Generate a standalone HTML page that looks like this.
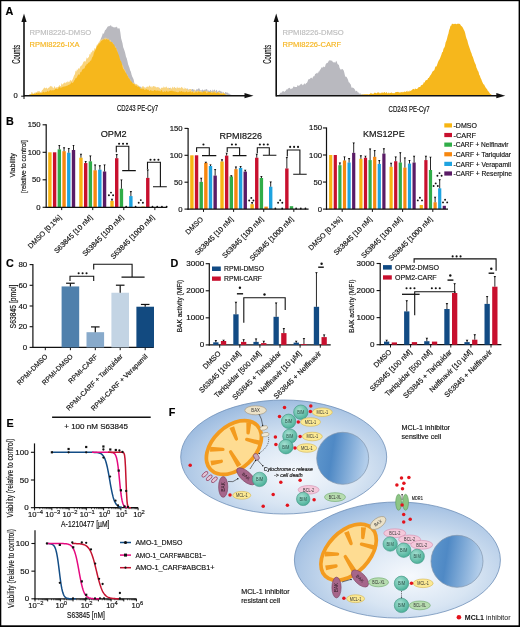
<!DOCTYPE html>
<html><head><meta charset="utf-8"><style>
html,body{margin:0;padding:0;background:#fff;}
body{width:520px;height:627px;overflow:hidden;font-family:"Liberation Sans",sans-serif;}
svg{display:block;will-change:transform;}
</style></head><body>
<svg width="520" height="627" viewBox="0 0 520 627" font-family="Liberation Sans, sans-serif"><defs>
<radialGradient id="cellg" cx="0.58" cy="0.62" r="0.66" fx="0.56" fy="0.64">
<stop offset="0" stop-color="#f6f9fd"/><stop offset="0.45" stop-color="#d8e5f3"/><stop offset="0.82" stop-color="#b0c9e6"/><stop offset="1" stop-color="#98b8de"/></radialGradient>
<linearGradient id="nucg" x1="0" y1="0" x2="1" y2="0.15">
<stop offset="0" stop-color="#5f97cd"/><stop offset="0.35" stop-color="#4f89c5"/><stop offset="1" stop-color="#b2cdea"/></linearGradient>
<radialGradient id="bimg" cx="0.4" cy="0.35" r="0.7"><stop offset="0" stop-color="#a6e0d2"/><stop offset="1" stop-color="#45ad95"/></radialGradient>
</defs><path d="M28,95.6 L28,95.6 L28.7,95.22 L29.4,94.83 L30.1,94.48 L30.8,94.37 L31.5,94.25 L32.2,94.13 L32.9,93.14 L33.6,94.73 L34.3,94.42 L35,93.08 L35.7,93.54 L36.4,93.31 L37.1,93.68 L37.8,93.89 L38.5,92.11 L39.2,91.83 L39.9,93.66 L40.6,92.57 L41.3,93.25 L42,91.31 L42.7,92.25 L43.4,92.8 L44.1,91.5 L44.8,93.1 L45.5,92.84 L46.2,90.59 L46.9,90.41 L47.6,91.48 L48.3,92.26 L49,90.75 L49.7,90.19 L50.4,90.52 L51.1,89.41 L51.8,89.7 L52.5,90.05 L53.2,90.02 L53.9,89.22 L54.6,89.05 L55.3,88.85 L56,89.26 L56.7,88.69 L57.4,87.88 L58.1,89.57 L58.8,88.62 L59.5,88.54 L60.2,87.17 L60.9,88.82 L61.6,88.22 L62.3,86.17 L63,86.4 L63.7,87.05 L64.4,86.75 L65.1,87.01 L65.8,85.49 L66.5,86.19 L67.2,85.53 L67.9,84.37 L68.6,84.77 L69.3,85.2 L70,84.83 L70.7,83.31 L71.4,82.81 L72.1,80.78 L72.8,80.58 L73.5,81.21 L74.2,79.59 L74.9,78.32 L75.6,78.52 L76.3,78.19 L77,77.42 L77.7,76 L78.4,75.45 L79.1,74.92 L79.8,74.87 L80.5,73.32 L81.2,71.98 L81.9,71.19 L82.6,69.06 L83.3,68.06 L84,68.62 L84.7,68.27 L85.4,66.3 L86.1,64.8 L86.8,63.24 L87.5,63.01 L88.2,63.13 L88.9,61.6 L89.6,60.02 L90.3,59.76 L91,57.22 L91.7,56.87 L92.4,56.9 L93.1,54.97 L93.8,53.66 L94.5,52.18 L95.2,51.64 L95.9,50.96 L96.6,47.01 L97.3,47.22 L98,45.64 L98.7,44.14 L99.4,42.22 L100.1,40.87 L100.8,38.67 L101.5,37.26 L102.2,35.43 L102.9,33.03 L103.6,33.92 L104.3,32.14 L105,30.19 L105.7,29.87 L106.4,28.8 L107.1,27.47 L107.8,26.42 L108.5,26.33 L109.2,26.17 L109.9,25.78 L110.6,25.3 L111.3,25.67 L112,27.05 L112.7,26.58 L113.4,27.2 L114.1,27.52 L114.8,27.22 L115.5,27.21 L116.2,27.26 L116.9,26.51 L117.6,28.62 L118.3,28.86 L119,27.77 L119.7,28.91 L120.4,32.63 L121.1,38.17 L121.8,40.72 L122.5,43.31 L123.2,47.13 L123.9,49.04 L124.6,50.97 L125.3,53.54 L126,56.78 L126.7,58.28 L127.4,60.89 L128.1,64.3 L128.8,65.97 L129.5,67.88 L130.2,70.47 L130.9,71.63 L131.6,74.73 L132.3,76.69 L133,78.01 L133.7,79.63 L134.4,83.19 L135.1,83.91 L135.8,84.24 L136.5,85.78 L137.2,86.88 L137.9,85.57 L138.6,85.71 L139.3,86.1 L140,87.56 L140.7,86.3 L141.4,87.69 L142.1,87.71 L142.8,87.47 L143.5,86.77 L144.2,88.66 L144.9,88.32 L145.6,87.73 L146.3,87.1 L147,88.21 L147.7,87.68 L148.4,88.2 L149.1,87.67 L149.8,88.49 L150.5,87.16 L151.2,87.76 L151.9,89.39 L152.6,89.19 L153.3,87.85 L154,89.19 L154.7,87.9 L155.4,89.43 L156.1,88.99 L156.8,88.23 L157.5,87.86 L158.2,87.29 L158.9,89.41 L159.6,87.41 L160.3,89.31 L161,89.68 L161.7,88.76 L162.4,87.82 L163.1,89.52 L163.8,89.8 L164.5,89.17 L165.2,88.73 L165.9,88.44 L166.6,88.39 L167.3,88.07 L168,89.22 L168.7,88.66 L169.4,88.11 L170.1,87.92 L170.8,89.29 L171.5,88.43 L172.2,88.94 L172.9,88.54 L173.6,89.88 L174.3,89.97 L175,87.88 L175.7,88.34 L176.4,88.67 L177.1,90.27 L177.8,89.81 L178.5,88.76 L179.2,88.48 L179.9,89.62 L180.6,90.02 L181.3,90.26 L182,88.87 L182.7,90.17 L183.4,89.72 L184.1,89.24 L184.8,90.46 L185.5,88.67 L186.2,89.87 L186.9,88.34 L187.6,88.56 L188.3,90.35 L189,88.69 L189.7,90.02 L190.4,89.65 L191.1,90.24 L191.8,89.12 L192.5,89.07 L193.2,88.96 L193.9,90.36 L194.6,89.74 L195.3,90.6 L196,90.45 L196.7,88.66 L197.4,89.67 L198.1,88.61 L198.8,88.47 L199.5,88.57 L200.2,90.49 L200.9,90.35 L201.6,90.5 L202.3,89.37 L203,90.08 L203.7,90.52 L204.4,89.6 L205.1,90.11 L205.8,89.32 L206.5,89.03 L207.2,89.52 L207.9,91.06 L208.6,90.33 L209.3,91.24 L210,90.17 L210.7,89.78 L211.4,91.05 L212.1,91.19 L212.8,89.28 L213.5,90.91 L214.2,89.57 L214.9,89.67 L215.6,91.63 L216.3,89.73 L217,90.34 L217.7,92.26 L218.4,91.03 L219.1,90.42 L219.8,90.67 L220.5,90.98 L221.2,92.31 L221.9,90.9 L222.6,92.97 L223.3,91.82 L224,93.36 L224.7,93.35 L225.4,92 L226.1,92.05 L226.8,92.89 L227.5,92.28 L228.2,93.91 L228.9,92.74 L229.6,94.14 L230.3,94.44 L231,94.74 L231.7,95.04 L232.4,95.34 L233,95.6 Z" fill="#b9b9bf"/>
<path d="M28,95.6 L28,95.6 L28.7,95 L29.4,94.4 L30.1,95.26 L30.8,95.06 L31.5,92.04 L32.2,91.95 L32.9,94.18 L33.6,93.69 L34.3,93.31 L35,91.98 L35.7,92.76 L36.4,92.59 L37.1,92.33 L37.8,90.81 L38.5,91.45 L39.2,91.03 L39.9,91.79 L40.6,92.36 L41.3,91.92 L42,90.32 L42.7,89.71 L43.4,88.85 L44.1,87.8 L44.8,87.48 L45.5,88.58 L46.2,87.81 L46.9,87.71 L47.6,89.05 L48.3,87.78 L49,87.79 L49.7,86.64 L50.4,85.86 L51.1,86.72 L51.8,86.01 L52.5,87.1 L53.2,88.56 L53.9,87.42 L54.6,85.74 L55.3,87.91 L56,87.5 L56.7,87.19 L57.4,87.5 L58.1,86.7 L58.8,86.44 L59.5,84.7 L60.2,86.36 L60.9,85.95 L61.6,83.04 L62.3,84.6 L63,84.13 L63.7,82.97 L64.4,82.84 L65.1,82.37 L65.8,83.46 L66.5,81.81 L67.2,82.57 L67.9,80.74 L68.6,82.14 L69.3,81.89 L70,80.19 L70.7,80.24 L71.4,81.07 L72.1,80.14 L72.8,79.08 L73.5,76.92 L74.2,75.18 L74.9,74.31 L75.6,70.52 L76.3,71.81 L77,69.06 L77.7,70.42 L78.4,67.79 L79.1,69.16 L79.8,67.66 L80.5,66.31 L81.2,65.66 L81.9,65.2 L82.6,64.12 L83.3,62.35 L84,61.14 L84.7,61.23 L85.4,61.7 L86.1,59.82 L86.8,57.18 L87.5,58.63 L88.2,57.4 L88.9,57.06 L89.6,53.84 L90.3,54.68 L91,51.65 L91.7,52.79 L92.4,50.82 L93.1,49.91 L93.8,51.22 L94.5,48 L95.2,48.57 L95.9,48.44 L96.6,45.29 L97.3,43.98 L98,44.93 L98.7,42.27 L99.4,42.42 L100.1,39.74 L100.8,40.31 L101.5,39.22 L102.2,40.34 L102.9,37.97 L103.6,40.56 L104.3,37.39 L105,39.45 L105.7,37.15 L106.4,38.09 L107.1,40.06 L107.8,38.15 L108.5,38.67 L109.2,40.82 L109.9,40.38 L110.6,39.86 L111.3,43.77 L112,41.97 L112.7,42.48 L113.4,44.34 L114.1,46.09 L114.8,47.37 L115.5,46.24 L116.2,48.66 L116.9,49.51 L117.6,52.69 L118.3,55.55 L119,57.3 L119.7,59.66 L120.4,61.03 L121.1,63.09 L121.8,64.22 L122.5,65.1 L123.2,65.94 L123.9,68.96 L124.6,69.49 L125.3,70.43 L126,73.1 L126.7,75.6 L127.4,74.35 L128.1,76.95 L128.8,77.48 L129.5,79.01 L130.2,78.96 L130.9,82.71 L131.6,81.17 L132.3,82.91 L133,82.94 L133.7,82.29 L134.4,84.65 L135.1,83.89 L135.8,83.87 L136.5,84.05 L137.2,84.71 L137.9,84.75 L138.6,86.73 L139.3,86.57 L140,88.35 L140.7,88.22 L141.4,88.44 L142.1,86.03 L142.8,86.74 L143.5,86.14 L144.2,87.26 L144.9,87.39 L145.6,87.98 L146.3,87.72 L147,86.3 L147.7,86.86 L148.4,87.22 L149.1,85.58 L149.8,85.71 L150.5,86.93 L151.2,86 L151.9,87.99 L152.6,86.47 L153.3,86.05 L154,86.34 L154.7,86.53 L155.4,86.51 L156.1,87.51 L156.8,87.36 L157.5,86.89 L158.2,87.98 L158.9,86.64 L159.6,88.89 L160.3,89.09 L161,88.36 L161.7,87.43 L162.4,87.7 L163.1,87.94 L163.8,86.26 L164.5,87.45 L165.2,87.81 L165.9,86.73 L166.6,86.47 L167.3,88.75 L168,87.37 L168.7,87.88 L169.4,89.18 L170.1,88.21 L170.8,87.2 L171.5,89.43 L172.2,87.5 L172.9,86.38 L173.6,88.53 L174.3,86.68 L175,87.35 L175.7,89.08 L176.4,88.56 L177.1,86.48 L177.8,87.89 L178.5,87.78 L179.2,88.03 L179.9,87.16 L180.6,88.4 L181.3,86.77 L182,87.46 L182.7,87.76 L183.4,89.58 L184.1,86.88 L184.8,89.3 L185.5,87.74 L186.2,89.2 L186.9,88.87 L187.6,89.34 L188.3,90.52 L189,89.61 L189.7,88.98 L190.4,89.12 L191.1,89.04 L191.8,91.56 L192.5,90.94 L193.2,92.01 L193.9,91.21 L194.6,89.12 L195.3,91.21 L196,91.64 L196.7,91.52 L197.4,90.85 L198.1,90.45 L198.8,90.82 L199.5,91.97 L200.2,90.33 L200.9,91.2 L201.6,91.1 L202.3,92.68 L203,92.25 L203.7,92.71 L204.4,92.46 L205.1,90.78 L205.8,90.63 L206.5,91.5 L207.2,90.82 L207.9,91.41 L208.6,92.27 L209.3,93.09 L210,92.07 L210.7,92.89 L211.4,90.65 L212.1,91.55 L212.8,93.67 L213.5,91.02 L214.2,91.95 L214.9,90.9 L215.6,91.04 L216.3,93.7 L217,94.06 L217.7,93.04 L218.4,91.45 L219.1,92.06 L219.8,91.92 L220.5,93.4 L221.2,93.5 L221.9,92.79 L222.6,93.14 L223.3,91.89 L224,93.33 L224.7,94.98 L225.4,94.69 L226.1,94.21 L226.8,94.54 L227.5,94.88 L228.2,95.22 L228.9,95.55 L229,95.6 Z" fill="#f9d47e"/>
<path d="M28,95.6 L28,95.6 L28.7,95.23 L29.4,94.87 L30.1,94.5 L30.8,94.39 L31.5,94.28 L32.2,94.16 L32.9,93.58 L33.6,94.02 L34.3,93.59 L35,93.9 L35.7,93.83 L36.4,92.71 L37.1,92.5 L37.8,93.87 L38.5,92.71 L39.2,92.53 L39.9,93.76 L40.6,92.68 L41.3,93.2 L42,92.41 L42.7,92.57 L43.4,91.55 L44.1,92.28 L44.8,92.57 L45.5,91.81 L46.2,92.06 L46.9,91.8 L47.6,90.57 L48.3,91.68 L49,91.23 L49.7,90.49 L50.4,89.77 L51.1,91.05 L51.8,90.12 L52.5,90.34 L53.2,90.4 L53.9,89.88 L54.6,90.03 L55.3,88.86 L56,89.36 L56.7,88.5 L57.4,89.18 L58.1,88.9 L58.8,87.31 L59.5,87.2 L60.2,87.16 L60.9,88.33 L61.6,87.19 L62.3,87.35 L63,86.59 L63.7,86.78 L64.4,86.38 L65.1,86.13 L65.8,86.14 L66.5,85.73 L67.2,85.89 L67.9,85.08 L68.6,85.12 L69.3,84.57 L70,84.41 L70.7,83.42 L71.4,82.09 L72.1,82.94 L72.8,82.71 L73.5,81.93 L74.2,80.46 L74.9,79.85 L75.6,78.08 L76.3,78.33 L77,76.99 L77.7,75.61 L78.4,74.34 L79.1,74.89 L79.8,74.27 L80.5,71.78 L81.2,72.19 L81.9,70.62 L82.6,69.28 L83.3,68.67 L84,68.66 L84.7,67.96 L85.4,65.59 L86.1,65.74 L86.8,63.83 L87.5,64.16 L88.2,62.58 L88.9,62.69 L89.6,62.07 L90.3,60.51 L91,60.7 L91.7,58.76 L92.4,57 L93.1,56.13 L93.8,53.29 L94.5,51.77 L95.2,50.33 L95.9,49.32 L96.6,47.12 L97.3,45.53 L98,45.64 L98.7,43.26 L99.4,43.48 L100.1,42.76 L100.8,41.21 L101.5,40.75 L102.2,40.25 L102.9,39.86 L103.6,39.55 L104.3,39.26 L105,39.14 L105.7,39.67 L106.4,39.08 L107.1,39.13 L107.8,39.84 L108.5,39.39 L109.2,40.01 L109.9,41.73 L110.6,41.43 L111.3,42.13 L112,41.81 L112.7,43.18 L113.4,44.31 L114.1,44.4 L114.8,46.56 L115.5,47.68 L116.2,48.12 L116.9,50.68 L117.6,51.92 L118.3,53.93 L119,55.5 L119.7,58.29 L120.4,60.5 L121.1,61.31 L121.8,63.42 L122.5,66.58 L123.2,69.14 L123.9,69.19 L124.6,70.77 L125.3,72.23 L126,72.96 L126.7,74.3 L127.4,75.46 L128.1,76.82 L128.8,78.36 L129.5,78.85 L130.2,80.01 L130.9,81.74 L131.6,81.15 L132.3,82.82 L133,83.82 L133.7,83.71 L134.4,84.09 L135.1,85.68 L135.8,85.2 L136.5,85.53 L137.2,86.31 L137.9,87.12 L138.6,86.38 L139.3,87.18 L140,87.61 L140.7,88.91 L141.4,88.53 L142.1,89.43 L142.8,88.35 L143.5,88.8 L144.2,89.52 L144.9,90.09 L145.6,89.46 L146.3,89.21 L147,89.17 L147.7,90.06 L148.4,89.6 L149.1,90.86 L149.8,91.07 L150.5,89.95 L151.2,90.15 L151.9,91.12 L152.6,90.85 L153.3,91.17 L154,90.37 L154.7,90.01 L155.4,90.32 L156.1,91.25 L156.8,90.34 L157.5,90.5 L158.2,90.65 L158.9,90.68 L159.6,90.69 L160.3,91.63 L161,90.28 L161.7,90.04 L162.4,91.75 L163.1,91.66 L163.8,91.88 L164.5,90.91 L165.2,91.87 L165.9,91.85 L166.6,90.61 L167.3,91.58 L168,91.77 L168.7,91.48 L169.4,91.25 L170.1,90.86 L170.8,90.98 L171.5,90.8 L172.2,90.54 L172.9,91.5 L173.6,90.98 L174.3,91.95 L175,90.6 L175.7,92.17 L176.4,91.82 L177.1,92.26 L177.8,92.23 L178.5,92.26 L179.2,91.71 L179.9,90.72 L180.6,92.06 L181.3,91.04 L182,91.29 L182.7,91.97 L183.4,91.74 L184.1,91.55 L184.8,92.52 L185.5,91.95 L186.2,91.48 L186.9,91.34 L187.6,92.45 L188.3,91.78 L189,92.35 L189.7,91.59 L190.4,91.33 L191.1,91.96 L191.8,92.48 L192.5,91.34 L193.2,92.48 L193.9,92.73 L194.6,92.54 L195.3,92.59 L196,91.14 L196.7,92.28 L197.4,92.72 L198.1,91.27 L198.8,91.69 L199.5,91.7 L200.2,92.19 L200.9,92.02 L201.6,92.13 L202.3,92.69 L203,91.32 L203.7,91.43 L204.4,91.58 L205.1,91.59 L205.8,91.51 L206.5,93.16 L207.2,92.96 L207.9,91.6 L208.6,92.37 L209.3,92.05 L210,92.07 L210.7,92.19 L211.4,92.78 L212.1,92.74 L212.8,92.39 L213.5,92.14 L214.2,92.45 L214.9,92.14 L215.6,92.98 L216.3,93.33 L217,92.78 L217.7,92.3 L218.4,92.54 L219.1,92.95 L219.8,93.43 L220.5,93.81 L221.2,93.14 L221.9,93.96 L222.6,93.7 L223.3,93.42 L224,93.37 L224.7,94.06 L225.4,94.53 L226.1,95 L226.8,95.47 L227,95.6 Z" fill="#f6b71c"/>
<path d="M278,95.6 L278,95.6 L278.7,94.98 L279.4,94.36 L280.1,93.22 L280.8,92.47 L281.5,92.66 L282.2,91.67 L282.9,91.02 L283.6,91.29 L284.3,91.97 L285,91.25 L285.7,90.74 L286.4,89.27 L287.1,89.69 L287.8,88.84 L288.5,88.33 L289.2,87.91 L289.9,87.87 L290.6,89.17 L291.3,88.71 L292,88.42 L292.7,88.17 L293.4,86.59 L294.1,86.61 L294.8,87.06 L295.5,87.05 L296.2,87.08 L296.9,86.9 L297.6,84.92 L298.3,85.83 L299,85.74 L299.7,85.15 L300.4,84.19 L301.1,84.61 L301.8,83.53 L302.5,85.22 L303.2,84.9 L303.9,84.04 L304.6,83.34 L305.3,84.51 L306,83.36 L306.7,83.01 L307.4,81.89 L308.1,80.11 L308.8,78.98 L309.5,79.17 L310.2,78.58 L310.9,77.77 L311.6,77.86 L312.3,78.76 L313,76.85 L313.7,76.29 L314.4,76.13 L315.1,73.93 L315.8,73.68 L316.5,73.19 L317.2,72.55 L317.9,73.64 L318.6,71.53 L319.3,71.52 L320,69.73 L320.7,69.34 L321.4,67.51 L322.1,67.33 L322.8,67.84 L323.5,66.56 L324.2,66.73 L324.9,67.14 L325.6,64.47 L326.3,63.39 L327,62.76 L327.7,62.95 L328.4,61.62 L329.1,60.26 L329.8,60.56 L330.5,60.31 L331.2,61.02 L331.9,60.19 L332.6,61.72 L333.3,62.27 L334,62.51 L334.7,62.13 L335.4,62.74 L336.1,60.78 L336.8,61.78 L337.5,64.08 L338.2,64.46 L338.9,65.01 L339.6,67.95 L340.3,69.01 L341,69.91 L341.7,68.99 L342.4,69.01 L343.1,69.81 L343.8,70.73 L344.5,73.4 L345.2,76.82 L345.9,76.59 L346.6,77.04 L347.3,78.27 L348,79.71 L348.7,82.28 L349.4,82.59 L350.1,83.67 L350.8,84.47 L351.5,87.65 L352.2,87.43 L352.9,87.66 L353.6,88.03 L354.3,88.72 L355,89.67 L355.7,91.49 L356.4,90.79 L357.1,90.98 L357.8,92.39 L358.5,92.28 L359.2,94.35 L359.9,92.75 L360.6,93.85 L361.3,94.58 L362,94.18 L362.7,94.37 L363.4,94.57 L364.1,94.84 L364.8,95.12 L365.5,95.4 L366,95.6 Z" fill="#b9b9bf"/>
<path d="M356,95.6 L356,95.6 L356.7,95.49 L357.4,95.39 L358.1,95.28 L358.8,95.18 L359.5,95.08 L360.2,94.97 L360.9,94.87 L361.6,94.76 L362.3,94.66 L363,94.55 L363.7,94.45 L364.4,94.34 L365.1,94.24 L365.8,94.13 L366.5,94.22 L367.2,94.31 L367.9,94.29 L368.6,94.42 L369.3,93.99 L370,94.18 L370.7,92.7 L371.4,93.35 L372.1,94.06 L372.8,93.54 L373.5,93.9 L374.2,92.59 L374.9,93.11 L375.6,92.7 L376.3,93.13 L377,93.13 L377.7,92.18 L378.4,92.46 L379.1,92.51 L379.8,93.48 L380.5,93.22 L381.2,92.24 L381.9,93.25 L382.6,92.18 L383.3,92.94 L384,92.14 L384.7,91.93 L385.4,93.31 L386.1,92.24 L386.8,92.24 L387.5,93.46 L388.2,93.27 L388.9,92.33 L389.6,93.39 L390.3,92.71 L391,92.92 L391.7,92.15 L392.4,93.32 L393.1,92.91 L393.8,93.34 L394.5,93.21 L395.2,92.25 L395.9,92.34 L396.6,92.02 L397.3,91.97 L398,91.83 L398.7,92.2 L399.4,92.67 L400.1,91.69 L400.8,92.66 L401.5,92.02 L402.2,91.87 L402.9,92.57 L403.6,91.93 L404.3,91.56 L405,91.72 L405.7,91.97 L406.4,90.83 L407.1,92.2 L407.8,90.57 L408.5,91.62 L409.2,91.67 L409.9,90.24 L410.6,91.22 L411.3,90.26 L412,90.31 L412.7,89.12 L413.4,88.89 L414.1,88.82 L414.8,89.78 L415.5,88.28 L416.2,88.89 L416.9,88.88 L417.6,88.62 L418.3,87.38 L419,87.11 L419.7,87.04 L420.4,86.74 L421.1,84.97 L421.8,85.3 L422.5,84.68 L423.2,84.08 L423.9,82.06 L424.6,82.81 L425.3,80.75 L426,80.35 L426.7,79.98 L427.4,79.66 L428.1,77.92 L428.8,78.05 L429.5,76.64 L430.2,75.46 L430.9,74.65 L431.6,73.41 L432.3,72.07 L433,71.01 L433.7,70.69 L434.4,70.01 L435.1,67.49 L435.8,66.13 L436.5,66.45 L437.2,64.38 L437.9,62.62 L438.6,60.79 L439.3,59.8 L440,58.61 L440.7,56.45 L441.4,54.66 L442.1,52.3 L442.8,51.91 L443.5,48.73 L444.2,47.7 L444.9,46.16 L445.6,42.49 L446.3,40.92 L447,38.73 L447.7,35.74 L448.4,33.65 L449.1,30.22 L449.8,28.4 L450.5,25.78 L451.2,25.8 L451.9,23.83 L452.6,23.68 L453.3,24.27 L454,23.75 L454.7,24.11 L455.4,23.63 L456.1,23.97 L456.8,24.25 L457.5,23.75 L458.2,23.41 L458.9,23.88 L459.6,23.77 L460.3,24.48 L461,25.86 L461.7,26.22 L462.4,26.96 L463.1,28.37 L463.8,29.73 L464.5,30.95 L465.2,33.26 L465.9,36.39 L466.6,38.85 L467.3,40.35 L468,43.27 L468.7,45.39 L469.4,47.4 L470.1,49.49 L470.8,51.78 L471.5,53.28 L472.2,55.71 L472.9,56.92 L473.6,59.13 L474.3,61.47 L475,63.23 L475.7,64.51 L476.4,67.5 L477.1,68.98 L477.8,70.82 L478.5,71.87 L479.2,74.68 L479.9,75.76 L480.6,78 L481.3,79.23 L482,81.35 L482.7,82.64 L483.4,84.23 L484.1,84.56 L484.8,86.08 L485.5,87.28 L486.2,88.48 L486.9,88.76 L487.6,90.41 L488.3,91.31 L489,91.89 L489.7,93.21 L490.4,94.04 L491.1,94.25 L491.8,95.3 L492,95.6 Z" fill="#f6b71c"/>
<line x1="24" y1="95.7" x2="245.5" y2="95.7" stroke="#111" stroke-width="1.6" />
<path d="M253.5,95.7 L244.5,93.1 L244.5,98.3 Z" fill="#111"/>
<line x1="24" y1="96.5" x2="24" y2="20.5" stroke="#111" stroke-width="1.6" />
<path d="M24,13.5 L21.4,22 L26.6,22 Z" fill="#111"/>
<line x1="276.2" y1="95.7" x2="497.3" y2="95.7" stroke="#111" stroke-width="1.6" />
<path d="M505.3,95.7 L496.3,93.1 L496.3,98.3 Z" fill="#111"/>
<line x1="276.2" y1="96.5" x2="276.2" y2="20.5" stroke="#111" stroke-width="1.6" />
<path d="M276.2,13.5 L273.6,22 L278.8,22 Z" fill="#111"/>
<line x1="21.2" y1="96.2" x2="24" y2="96.2" stroke="#111" stroke-width="1" />
<line x1="24" y1="96.2" x2="24" y2="99" stroke="#111" stroke-width="1" />
<text x="13.6" y="98.4" font-size="7.6" fill="#111" stroke="#111" stroke-width="0.16">0</text>
<text transform="translate(20.1,54.3) rotate(-90)" font-size="10.2" fill="#111" stroke="#111" stroke-width="0.16" text-anchor="middle" textLength="19" lengthAdjust="spacingAndGlyphs">Counts</text>
<text transform="translate(271.2,54.3) rotate(-90)" font-size="10.2" fill="#111" stroke="#111" stroke-width="0.16" text-anchor="middle" textLength="19" lengthAdjust="spacingAndGlyphs">Counts</text>
<text x="116.9" y="111.4" font-size="8.7" fill="#111" stroke="#111" stroke-width="0.16" textLength="41.1" lengthAdjust="spacingAndGlyphs">CD243 PE-Cy7</text>
<text x="388.6" y="111.6" font-size="8.7" fill="#111" stroke="#111" stroke-width="0.16" textLength="41.1" lengthAdjust="spacingAndGlyphs">CD243 PE-Cy7</text>
<text x="29.5" y="35" font-size="7.6" fill="#bdbdbd" stroke="#bdbdbd" stroke-width="0.16" textLength="61.8" lengthAdjust="spacingAndGlyphs">RPMI8226-DMSO</text>
<text x="29.5" y="46.8" font-size="7.6" fill="#f5b41e" stroke="#f5b41e" stroke-width="0.16" textLength="50" lengthAdjust="spacingAndGlyphs">RPMI8226-IXA</text>
<text x="282.5" y="34.8" font-size="7.6" fill="#bdbdbd" stroke="#bdbdbd" stroke-width="0.16" textLength="61.3" lengthAdjust="spacingAndGlyphs">RPMI8226-DMSO</text>
<text x="282.5" y="46.8" font-size="7.6" fill="#f5b41e" stroke="#f5b41e" stroke-width="0.16" textLength="58.5" lengthAdjust="spacingAndGlyphs">RPMI8226-CARF</text>
<text x="5.4" y="14.8" font-size="10.8" fill="#000" stroke="#000" stroke-width="0.16" font-weight="bold">A</text>
<text x="6.1" y="124.9" font-size="10.8" fill="#000" stroke="#000" stroke-width="0.16" font-weight="bold">B</text>
<text x="6" y="267" font-size="10.8" fill="#000" stroke="#000" stroke-width="0.16" font-weight="bold">C</text>
<text x="170.5" y="267" font-size="10.8" fill="#000" stroke="#000" stroke-width="0.16" font-weight="bold">D</text>
<text x="6.6" y="426.8" font-size="10.8" fill="#000" stroke="#000" stroke-width="0.16" font-weight="bold">E</text>
<text x="168.7" y="416.2" font-size="10.8" fill="#000" stroke="#000" stroke-width="0.16" font-weight="bold">F</text>
<rect x="48.2" y="152.3" width="3.4" height="55" fill="#f7b512" />
<rect x="52.92" y="152.3" width="3.4" height="55" fill="#c8102e" />
<rect x="57.64" y="149.38" width="3.4" height="57.92" fill="#30ad48" />
<line x1="59.34" y1="149.38" x2="59.34" y2="145.21" stroke="#111" stroke-width="0.9" />
<path d="M58.14,144.91 L60.54,144.91 L59.34,146.61 Z" fill="#111"/>
<rect x="62.36" y="151.2" width="3.4" height="56.1" fill="#f7870f" />
<line x1="64.06" y1="151.2" x2="64.06" y2="147.62" stroke="#111" stroke-width="0.9" />
<path d="M62.86,147.32 L65.26,147.32 L64.06,149.03 Z" fill="#111"/>
<rect x="67.08" y="152.69" width="3.4" height="54.62" fill="#1ea3e0" />
<line x1="68.78" y1="152.69" x2="68.78" y2="148.18" stroke="#111" stroke-width="0.9" />
<path d="M67.58,147.88 L69.98,147.88 L68.78,149.58 Z" fill="#111"/>
<rect x="71.8" y="149.99" width="3.4" height="57.31" fill="#5a1b66" />
<line x1="73.5" y1="149.99" x2="73.5" y2="145.21" stroke="#111" stroke-width="0.9" />
<path d="M72.3,144.91 L74.7,144.91 L73.5,146.61 Z" fill="#111"/>
<rect x="79.25" y="157.69" width="3.4" height="49.61" fill="#f7b512" />
<line x1="80.95" y1="157.69" x2="80.95" y2="154.12" stroke="#111" stroke-width="0.9" />
<path d="M79.75,153.81 L82.15,153.81 L80.95,155.52 Z" fill="#111"/>
<rect x="83.97" y="163.08" width="3.4" height="44.22" fill="#c8102e" />
<line x1="85.67" y1="163.08" x2="85.67" y2="161.32" stroke="#111" stroke-width="0.9" />
<path d="M84.47,161.02 L86.87,161.02 L85.67,162.72 Z" fill="#111"/>
<rect x="88.69" y="161.32" width="3.4" height="45.98" fill="#30ad48" />
<line x1="90.39" y1="161.32" x2="90.39" y2="155.88" stroke="#111" stroke-width="0.9" />
<path d="M89.19,155.57 L91.59,155.57 L90.39,157.28 Z" fill="#111"/>
<rect x="93.41" y="170.29" width="3.4" height="37.02" fill="#f7870f" />
<line x1="95.11" y1="170.29" x2="95.11" y2="164.9" stroke="#111" stroke-width="0.9" />
<path d="M93.91,164.59 L96.31,164.59 L95.11,166.3 Z" fill="#111"/>
<rect x="98.13" y="169.68" width="3.4" height="37.62" fill="#1ea3e0" />
<line x1="99.83" y1="169.68" x2="99.83" y2="165.5" stroke="#111" stroke-width="0.9" />
<path d="M98.63,165.2 L101.03,165.2 L99.83,166.9 Z" fill="#111"/>
<rect x="102.85" y="171.5" width="3.4" height="35.8" fill="#5a1b66" />
<line x1="104.55" y1="171.5" x2="104.55" y2="164.9" stroke="#111" stroke-width="0.9" />
<path d="M103.35,164.59 L105.75,164.59 L104.55,166.3 Z" fill="#111"/>
<rect x="110.3" y="200.92" width="3.4" height="6.38" fill="#f7b512" />
<line x1="112" y1="200.92" x2="112" y2="199" stroke="#111" stroke-width="0.9" />
<path d="M110.8,198.69 L113.2,198.69 L112,200.4 Z" fill="#111"/>
<rect x="115.02" y="158.19" width="3.4" height="49.12" fill="#c8102e" />
<line x1="116.72" y1="158.19" x2="116.72" y2="154.23" stroke="#111" stroke-width="0.9" />
<path d="M115.52,153.93 L117.92,153.93 L116.72,155.63 Z" fill="#111"/>
<rect x="119.74" y="188.71" width="3.4" height="18.59" fill="#30ad48" />
<line x1="121.44" y1="188.71" x2="121.44" y2="179.91" stroke="#111" stroke-width="0.9" />
<path d="M120.24,179.61 L122.64,179.61 L121.44,181.31 Z" fill="#111"/>
<circle cx="126.16" cy="206.7" r="0.9" fill="#111" />
<rect x="129.18" y="196.08" width="3.4" height="11.22" fill="#1ea3e0" />
<line x1="130.88" y1="196.08" x2="130.88" y2="191.41" stroke="#111" stroke-width="0.9" />
<path d="M129.68,191.1 L132.08,191.1 L130.88,192.81 Z" fill="#111"/>
<circle cx="135.6" cy="206.7" r="0.9" fill="#111" />
<rect x="141.35" y="206.48" width="3.4" height="0.83" fill="#f7b512" />
<rect x="146.07" y="177.88" width="3.4" height="29.43" fill="#c8102e" />
<line x1="147.77" y1="177.88" x2="147.77" y2="169.79" stroke="#111" stroke-width="0.9" />
<path d="M146.57,169.49 L148.97,169.49 L147.77,171.19 Z" fill="#111"/>
<circle cx="152.49" cy="206.7" r="0.9" fill="#111" />
<circle cx="157.21" cy="206.7" r="0.9" fill="#111" />
<circle cx="161.93" cy="206.7" r="0.9" fill="#111" />
<circle cx="166.65" cy="206.7" r="0.9" fill="#111" />
<line x1="46.2" y1="124.3" x2="46.2" y2="207.9" stroke="#111" stroke-width="1.2" />
<line x1="45.6" y1="207.3" x2="167.1" y2="207.3" stroke="#111" stroke-width="1.3" />
<line x1="42.6" y1="207.3" x2="46.2" y2="207.3" stroke="#111" stroke-width="1.1" />
<text x="40.6" y="209.8" font-size="7.2" fill="#111" stroke="#111" stroke-width="0.16" text-anchor="end" textLength="4.3" lengthAdjust="spacingAndGlyphs">0</text>
<line x1="42.6" y1="179.8" x2="46.2" y2="179.8" stroke="#111" stroke-width="1.1" />
<text x="40.6" y="182.3" font-size="7.2" fill="#111" stroke="#111" stroke-width="0.16" text-anchor="end" textLength="8.6" lengthAdjust="spacingAndGlyphs">50</text>
<line x1="42.6" y1="152.3" x2="46.2" y2="152.3" stroke="#111" stroke-width="1.1" />
<text x="40.6" y="154.8" font-size="7.2" fill="#111" stroke="#111" stroke-width="0.16" text-anchor="end" textLength="12.9" lengthAdjust="spacingAndGlyphs">100</text>
<line x1="42.6" y1="124.8" x2="46.2" y2="124.8" stroke="#111" stroke-width="1.1" />
<text x="40.6" y="127.3" font-size="7.2" fill="#111" stroke="#111" stroke-width="0.16" text-anchor="end" textLength="12.9" lengthAdjust="spacingAndGlyphs">150</text>
<line x1="61.7" y1="207.3" x2="61.7" y2="210.1" stroke="#111" stroke-width="1" />
<text transform="translate(61.8,217.9) rotate(-45)" font-size="7.2" fill="#111" stroke="#111" stroke-width="0.16" text-anchor="end">DMSO [0.1%]</text>
<line x1="92.75" y1="207.3" x2="92.75" y2="210.1" stroke="#111" stroke-width="1" />
<text transform="translate(92.85,217.9) rotate(-45)" font-size="7.2" fill="#111" stroke="#111" stroke-width="0.16" text-anchor="end">S63845 [10 nM]</text>
<line x1="123.8" y1="207.3" x2="123.8" y2="210.1" stroke="#111" stroke-width="1" />
<text transform="translate(123.9,217.9) rotate(-45)" font-size="7.2" fill="#111" stroke="#111" stroke-width="0.16" text-anchor="end">S63845 [100 nM]</text>
<line x1="154.85" y1="207.3" x2="154.85" y2="210.1" stroke="#111" stroke-width="1" />
<text transform="translate(154.95,217.9) rotate(-45)" font-size="7.2" fill="#111" stroke="#111" stroke-width="0.16" text-anchor="end">S63845 [1000 nM]</text>
<text x="100.7" y="137.4" font-size="9.6" fill="#111" stroke="#111" stroke-width="0.16" textLength="26" lengthAdjust="spacingAndGlyphs">OPM2</text>
<rect x="190.2" y="155.3" width="3.4" height="53.8" fill="#f7b512" />
<rect x="194.85" y="155.3" width="3.4" height="53.8" fill="#c8102e" />
<rect x="199.5" y="181.88" width="3.4" height="27.22" fill="#30ad48" />
<line x1="201.2" y1="181.88" x2="201.2" y2="178" stroke="#111" stroke-width="0.9" />
<path d="M200,177.7 L202.4,177.7 L201.2,179.4 Z" fill="#111"/>
<rect x="204.15" y="162.83" width="3.4" height="46.27" fill="#f7870f" />
<line x1="205.85" y1="162.83" x2="205.85" y2="162.02" stroke="#111" stroke-width="0.9" />
<path d="M204.65,161.72 L207.05,161.72 L205.85,163.42 Z" fill="#111"/>
<rect x="208.8" y="166.01" width="3.4" height="43.09" fill="#1ea3e0" />
<line x1="210.5" y1="166.01" x2="210.5" y2="164.71" stroke="#111" stroke-width="0.9" />
<path d="M209.3,164.41 L211.7,164.41 L210.5,166.11 Z" fill="#111"/>
<rect x="213.45" y="175.58" width="3.4" height="33.52" fill="#5a1b66" />
<line x1="215.15" y1="175.58" x2="215.15" y2="169.18" stroke="#111" stroke-width="0.9" />
<path d="M213.95,168.88 L216.35,168.88 L215.15,170.58 Z" fill="#111"/>
<rect x="220.3" y="161.49" width="3.4" height="47.61" fill="#f7b512" />
<line x1="222" y1="161.49" x2="222" y2="159.6" stroke="#111" stroke-width="0.9" />
<path d="M220.8,159.3 L223.2,159.3 L222,161 Z" fill="#111"/>
<rect x="224.95" y="155.62" width="3.4" height="53.48" fill="#c8102e" />
<line x1="226.65" y1="155.62" x2="226.65" y2="153.15" stroke="#111" stroke-width="0.9" />
<path d="M225.45,152.85 L227.85,152.85 L226.65,154.55 Z" fill="#111"/>
<rect x="229.6" y="176.39" width="3.4" height="32.71" fill="#30ad48" />
<line x1="231.3" y1="176.39" x2="231.3" y2="175.47" stroke="#111" stroke-width="0.9" />
<path d="M230.1,175.17 L232.5,175.17 L231.3,176.88 Z" fill="#111"/>
<rect x="234.25" y="169.18" width="3.4" height="39.92" fill="#f7870f" />
<line x1="235.95" y1="169.18" x2="235.95" y2="166.81" stroke="#111" stroke-width="0.9" />
<path d="M234.75,166.51 L237.15,166.51 L235.95,168.21 Z" fill="#111"/>
<rect x="238.9" y="167.89" width="3.4" height="41.21" fill="#1ea3e0" />
<line x1="240.6" y1="167.89" x2="240.6" y2="166.28" stroke="#111" stroke-width="0.9" />
<path d="M239.4,165.98 L241.8,165.98 L240.6,167.68 Z" fill="#111"/>
<rect x="243.55" y="171.6" width="3.4" height="37.5" fill="#5a1b66" />
<line x1="245.25" y1="171.6" x2="245.25" y2="169.99" stroke="#111" stroke-width="0.9" />
<path d="M244.05,169.69 L246.45,169.69 L245.25,171.39 Z" fill="#111"/>
<rect x="250.4" y="204.2" width="3.4" height="4.9" fill="#f7b512" />
<line x1="252.1" y1="204.2" x2="252.1" y2="202.32" stroke="#111" stroke-width="0.9" />
<path d="M250.9,202.02 L253.3,202.02 L252.1,203.72 Z" fill="#111"/>
<rect x="255.05" y="157.72" width="3.4" height="51.38" fill="#c8102e" />
<line x1="256.75" y1="157.72" x2="256.75" y2="154.01" stroke="#111" stroke-width="0.9" />
<path d="M255.55,153.71 L257.95,153.71 L256.75,155.41 Z" fill="#111"/>
<rect x="259.7" y="178" width="3.4" height="31.1" fill="#30ad48" />
<line x1="261.4" y1="178" x2="261.4" y2="176.39" stroke="#111" stroke-width="0.9" />
<path d="M260.2,176.09 L262.6,176.09 L261.4,177.79 Z" fill="#111"/>
<rect x="264.35" y="206.63" width="3.4" height="2.47" fill="#f7870f" />
<rect x="269" y="186.72" width="3.4" height="22.38" fill="#1ea3e0" />
<line x1="270.7" y1="186.72" x2="270.7" y2="181.88" stroke="#111" stroke-width="0.9" />
<path d="M269.5,181.58 L271.9,181.58 L270.7,183.28 Z" fill="#111"/>
<circle cx="275.35" cy="208.5" r="0.9" fill="#111" />
<circle cx="282.2" cy="208.5" r="0.9" fill="#111" />
<rect x="285.15" y="168.43" width="3.4" height="40.67" fill="#c8102e" />
<line x1="286.85" y1="168.43" x2="286.85" y2="157.18" stroke="#111" stroke-width="0.9" />
<path d="M285.65,156.88 L288.05,156.88 L286.85,158.58 Z" fill="#111"/>
<rect x="289.8" y="206.19" width="3.4" height="2.91" fill="#30ad48" />
<circle cx="296.15" cy="208.5" r="0.9" fill="#111" />
<circle cx="300.8" cy="208.5" r="0.9" fill="#111" />
<circle cx="305.45" cy="208.5" r="0.9" fill="#111" />
<line x1="188.1" y1="127.9" x2="188.1" y2="209.7" stroke="#111" stroke-width="1.2" />
<line x1="187.5" y1="209.1" x2="308.6" y2="209.1" stroke="#111" stroke-width="1.3" />
<line x1="184.5" y1="209.1" x2="188.1" y2="209.1" stroke="#111" stroke-width="1.1" />
<text x="182.6" y="211.6" font-size="7.2" fill="#111" stroke="#111" stroke-width="0.16" text-anchor="end" textLength="4.3" lengthAdjust="spacingAndGlyphs">0</text>
<line x1="184.5" y1="182.2" x2="188.1" y2="182.2" stroke="#111" stroke-width="1.1" />
<text x="182.6" y="184.7" font-size="7.2" fill="#111" stroke="#111" stroke-width="0.16" text-anchor="end" textLength="8.6" lengthAdjust="spacingAndGlyphs">50</text>
<line x1="184.5" y1="155.3" x2="188.1" y2="155.3" stroke="#111" stroke-width="1.1" />
<text x="182.6" y="157.8" font-size="7.2" fill="#111" stroke="#111" stroke-width="0.16" text-anchor="end" textLength="12.9" lengthAdjust="spacingAndGlyphs">100</text>
<line x1="184.5" y1="128.4" x2="188.1" y2="128.4" stroke="#111" stroke-width="1.1" />
<text x="182.6" y="130.9" font-size="7.2" fill="#111" stroke="#111" stroke-width="0.16" text-anchor="end" textLength="12.9" lengthAdjust="spacingAndGlyphs">150</text>
<line x1="203.52" y1="209.1" x2="203.52" y2="211.9" stroke="#111" stroke-width="1" />
<text transform="translate(203.62,219.7) rotate(-45)" font-size="7.2" fill="#111" stroke="#111" stroke-width="0.16" text-anchor="end">DMSO</text>
<line x1="233.62" y1="209.1" x2="233.62" y2="211.9" stroke="#111" stroke-width="1" />
<text transform="translate(233.72,219.7) rotate(-45)" font-size="7.2" fill="#111" stroke="#111" stroke-width="0.16" text-anchor="end">S63845 [10 nM]</text>
<line x1="263.72" y1="209.1" x2="263.72" y2="211.9" stroke="#111" stroke-width="1" />
<text transform="translate(263.82,219.7) rotate(-45)" font-size="7.2" fill="#111" stroke="#111" stroke-width="0.16" text-anchor="end">S63845 [100 nM]</text>
<line x1="293.82" y1="209.1" x2="293.82" y2="211.9" stroke="#111" stroke-width="1" />
<text transform="translate(293.93,219.7) rotate(-45)" font-size="7.2" fill="#111" stroke="#111" stroke-width="0.16" text-anchor="end">S63845 [1000 nM]</text>
<text x="219.4" y="138.6" font-size="9.6" fill="#111" stroke="#111" stroke-width="0.16" textLength="42.7" lengthAdjust="spacingAndGlyphs">RPMI8226</text>
<rect x="329.1" y="155" width="3.2" height="54.1" fill="#f7b512" />
<rect x="333.7" y="155" width="3.2" height="54.1" fill="#c8102e" />
<rect x="338.3" y="165.22" width="3.2" height="43.88" fill="#30ad48" />
<line x1="339.9" y1="165.22" x2="339.9" y2="162.79" stroke="#111" stroke-width="0.9" />
<path d="M338.7,162.49 L341.1,162.49 L339.9,164.19 Z" fill="#111"/>
<rect x="342.9" y="160.41" width="3.2" height="48.69" fill="#f7870f" />
<line x1="344.5" y1="160.41" x2="344.5" y2="156.79" stroke="#111" stroke-width="0.9" />
<path d="M343.3,156.49 L345.7,156.49 L344.5,158.19 Z" fill="#111"/>
<rect x="347.5" y="162.52" width="3.2" height="46.58" fill="#1ea3e0" />
<line x1="349.1" y1="162.52" x2="349.1" y2="158.3" stroke="#111" stroke-width="0.9" />
<path d="M347.9,158 L350.3,158 L349.1,159.7 Z" fill="#111"/>
<rect x="352.1" y="152.84" width="3.2" height="56.26" fill="#5a1b66" />
<line x1="353.7" y1="152.84" x2="353.7" y2="142.88" stroke="#111" stroke-width="0.9" />
<path d="M352.5,142.58 L354.9,142.58 L353.7,144.28 Z" fill="#111"/>
<rect x="359.3" y="158.79" width="3.2" height="50.31" fill="#f7b512" />
<line x1="360.9" y1="158.79" x2="360.9" y2="155.6" stroke="#111" stroke-width="0.9" />
<path d="M359.7,155.3 L362.1,155.3 L360.9,157 Z" fill="#111"/>
<rect x="363.9" y="157.7" width="3.2" height="51.4" fill="#c8102e" />
<line x1="365.5" y1="157.7" x2="365.5" y2="156.08" stroke="#111" stroke-width="0.9" />
<path d="M364.3,155.78 L366.7,155.78 L365.5,157.48 Z" fill="#111"/>
<rect x="368.5" y="160.09" width="3.2" height="49.01" fill="#30ad48" />
<line x1="370.1" y1="160.09" x2="370.1" y2="148.78" stroke="#111" stroke-width="0.9" />
<path d="M368.9,148.48 L371.3,148.48 L370.1,150.18 Z" fill="#111"/>
<rect x="373.1" y="156.79" width="3.2" height="52.31" fill="#f7870f" />
<line x1="374.7" y1="156.79" x2="374.7" y2="150.4" stroke="#111" stroke-width="0.9" />
<path d="M373.5,150.1 L375.9,150.1 L374.7,151.8 Z" fill="#111"/>
<rect x="377.7" y="163.93" width="3.2" height="45.17" fill="#1ea3e0" />
<line x1="379.3" y1="163.93" x2="379.3" y2="160.41" stroke="#111" stroke-width="0.9" />
<path d="M378.1,160.11 L380.5,160.11 L379.3,161.81 Z" fill="#111"/>
<rect x="382.3" y="153.59" width="3.2" height="55.51" fill="#5a1b66" />
<line x1="383.9" y1="153.59" x2="383.9" y2="148.51" stroke="#111" stroke-width="0.9" />
<path d="M382.7,148.21 L385.1,148.21 L383.9,149.91 Z" fill="#111"/>
<rect x="389.5" y="166.79" width="3.2" height="42.31" fill="#f7b512" />
<line x1="391.1" y1="166.79" x2="391.1" y2="163.11" stroke="#111" stroke-width="0.9" />
<path d="M389.9,162.81 L392.3,162.81 L391.1,164.51 Z" fill="#111"/>
<rect x="394.1" y="161.22" width="3.2" height="47.88" fill="#c8102e" />
<line x1="395.7" y1="161.22" x2="395.7" y2="156.79" stroke="#111" stroke-width="0.9" />
<path d="M394.5,156.49 L396.9,156.49 L395.7,158.19 Z" fill="#111"/>
<rect x="398.7" y="162.52" width="3.2" height="46.58" fill="#30ad48" />
<line x1="400.3" y1="162.52" x2="400.3" y2="152.51" stroke="#111" stroke-width="0.9" />
<path d="M399.1,152.21 L401.5,152.21 L400.3,153.91 Z" fill="#111"/>
<rect x="403.3" y="167.61" width="3.2" height="41.49" fill="#f7870f" />
<line x1="404.9" y1="167.61" x2="404.9" y2="157.7" stroke="#111" stroke-width="0.9" />
<path d="M403.7,157.4 L406.1,157.4 L404.9,159.1 Z" fill="#111"/>
<rect x="407.9" y="163.6" width="3.2" height="45.5" fill="#1ea3e0" />
<line x1="409.5" y1="163.6" x2="409.5" y2="160.41" stroke="#111" stroke-width="0.9" />
<path d="M408.3,160.11 L410.7,160.11 L409.5,161.81 Z" fill="#111"/>
<rect x="412.5" y="162.52" width="3.2" height="46.58" fill="#5a1b66" />
<line x1="414.1" y1="162.52" x2="414.1" y2="156.08" stroke="#111" stroke-width="0.9" />
<path d="M412.9,155.78 L415.3,155.78 L414.1,157.48 Z" fill="#111"/>
<rect x="419.7" y="204.99" width="3.2" height="4.11" fill="#f7b512" />
<rect x="424.3" y="160.09" width="3.2" height="49.01" fill="#c8102e" />
<line x1="425.9" y1="160.09" x2="425.9" y2="156.08" stroke="#111" stroke-width="0.9" />
<path d="M424.7,155.78 L427.1,155.78 L425.9,157.48 Z" fill="#111"/>
<rect x="428.9" y="169.99" width="3.2" height="39.11" fill="#30ad48" />
<line x1="430.5" y1="169.99" x2="430.5" y2="157.16" stroke="#111" stroke-width="0.9" />
<path d="M429.3,156.86 L431.7,156.86 L430.5,158.56 Z" fill="#111"/>
<rect x="433.5" y="202.28" width="3.2" height="6.82" fill="#f7870f" />
<line x1="435.1" y1="202.28" x2="435.1" y2="197.09" stroke="#111" stroke-width="0.9" />
<path d="M433.9,196.79 L436.3,196.79 L435.1,198.49 Z" fill="#111"/>
<rect x="438.1" y="188.33" width="3.2" height="20.77" fill="#1ea3e0" />
<line x1="439.7" y1="188.33" x2="439.7" y2="179.51" stroke="#111" stroke-width="0.9" />
<path d="M438.5,179.21 L440.9,179.21 L439.7,180.91 Z" fill="#111"/>
<rect x="442.7" y="205.8" width="3.2" height="3.3" fill="#5a1b66" />
<line x1="326.5" y1="127.45" x2="326.5" y2="209.7" stroke="#111" stroke-width="1.2" />
<line x1="325.9" y1="209.1" x2="448" y2="209.1" stroke="#111" stroke-width="1.3" />
<line x1="322.9" y1="209.1" x2="326.5" y2="209.1" stroke="#111" stroke-width="1.1" />
<text x="322" y="211.6" font-size="7.2" fill="#111" stroke="#111" stroke-width="0.16" text-anchor="end" textLength="4.3" lengthAdjust="spacingAndGlyphs">0</text>
<line x1="322.9" y1="182.05" x2="326.5" y2="182.05" stroke="#111" stroke-width="1.1" />
<text x="322" y="184.55" font-size="7.2" fill="#111" stroke="#111" stroke-width="0.16" text-anchor="end" textLength="8.6" lengthAdjust="spacingAndGlyphs">50</text>
<line x1="322.9" y1="155" x2="326.5" y2="155" stroke="#111" stroke-width="1.1" />
<text x="322" y="157.5" font-size="7.2" fill="#111" stroke="#111" stroke-width="0.16" text-anchor="end" textLength="12.9" lengthAdjust="spacingAndGlyphs">100</text>
<line x1="322.9" y1="127.95" x2="326.5" y2="127.95" stroke="#111" stroke-width="1.1" />
<text x="322" y="130.45" font-size="7.2" fill="#111" stroke="#111" stroke-width="0.16" text-anchor="end" textLength="12.9" lengthAdjust="spacingAndGlyphs">150</text>
<line x1="342.2" y1="209.1" x2="342.2" y2="211.9" stroke="#111" stroke-width="1" />
<text transform="translate(342.3,219.7) rotate(-45)" font-size="7.2" fill="#111" stroke="#111" stroke-width="0.16" text-anchor="end">DMSO [0.1%]</text>
<line x1="372.4" y1="209.1" x2="372.4" y2="211.9" stroke="#111" stroke-width="1" />
<text transform="translate(372.5,219.7) rotate(-45)" font-size="7.2" fill="#111" stroke="#111" stroke-width="0.16" text-anchor="end">S63845 [10 nM]</text>
<line x1="402.6" y1="209.1" x2="402.6" y2="211.9" stroke="#111" stroke-width="1" />
<text transform="translate(402.7,219.7) rotate(-45)" font-size="7.2" fill="#111" stroke="#111" stroke-width="0.16" text-anchor="end">S63845 [100 nM]</text>
<line x1="432.8" y1="209.1" x2="432.8" y2="211.9" stroke="#111" stroke-width="1" />
<text transform="translate(432.9,219.7) rotate(-45)" font-size="7.2" fill="#111" stroke="#111" stroke-width="0.16" text-anchor="end">S63845 [1000 nM]</text>
<text x="362.9" y="137.2" font-size="9.6" fill="#111" stroke="#111" stroke-width="0.16" textLength="41.8" lengthAdjust="spacingAndGlyphs">KMS12PE</text>
<circle cx="111" cy="192.6" r="0.95" fill="#111" />
<circle cx="108.9" cy="195.2" r="0.95" fill="#111" />
<circle cx="113.1" cy="195.2" r="0.95" fill="#111" />
<circle cx="140.8" cy="200.1" r="0.95" fill="#111" />
<circle cx="138.7" cy="202.7" r="0.95" fill="#111" />
<circle cx="142.9" cy="202.7" r="0.95" fill="#111" />
<circle cx="251.3" cy="197.9" r="0.95" fill="#111" />
<circle cx="249.2" cy="200.5" r="0.95" fill="#111" />
<circle cx="253.4" cy="200.5" r="0.95" fill="#111" />
<circle cx="280.2" cy="200.2" r="0.95" fill="#111" />
<circle cx="278.1" cy="202.8" r="0.95" fill="#111" />
<circle cx="282.3" cy="202.8" r="0.95" fill="#111" />
<circle cx="419.9" cy="197.8" r="0.95" fill="#111" />
<circle cx="417.8" cy="200.4" r="0.95" fill="#111" />
<circle cx="422" cy="200.4" r="0.95" fill="#111" />
<circle cx="435.7" cy="183.4" r="0.95" fill="#111" />
<circle cx="433.6" cy="186" r="0.95" fill="#111" />
<circle cx="437.8" cy="186" r="0.95" fill="#111" />
<circle cx="439.5" cy="173.1" r="0.95" fill="#111" />
<circle cx="437.4" cy="175.7" r="0.95" fill="#111" />
<circle cx="441.6" cy="175.7" r="0.95" fill="#111" />
<circle cx="445.1" cy="199.8" r="0.95" fill="#111" />
<circle cx="443" cy="202.4" r="0.95" fill="#111" />
<circle cx="447.2" cy="202.4" r="0.95" fill="#111" />
<path d="M116.3,152.3 V146.3 H128.8 V170.6 M122.2,170.6 H135.8" stroke="#111" stroke-width="1.1" fill="none" />
<circle cx="119.1" cy="143.8" r="1.05" fill="#111" />
<circle cx="123.05" cy="143.8" r="1.05" fill="#111" />
<circle cx="127" cy="143.8" r="1.05" fill="#111" />
<path d="M147.5,169.3 V162.2 H160.4 V186.7 M153,186.7 H166.8" stroke="#111" stroke-width="1.1" fill="none" />
<circle cx="150.5" cy="159.7" r="1.05" fill="#111" />
<circle cx="154.45" cy="159.7" r="1.05" fill="#111" />
<circle cx="158.4" cy="159.7" r="1.05" fill="#111" />
<path d="M196.6,152 V147.7 H209.3 V155.6 M202,155.6 H216.3" stroke="#111" stroke-width="1.1" fill="none" />
<circle cx="203.45" cy="144.5" r="1.05" fill="#111" />
<path d="M227.2,152 V147.7 H239.6 V155.6 M232.7,155.6 H246.5" stroke="#111" stroke-width="1.1" fill="none" />
<circle cx="231.92" cy="144.5" r="1.05" fill="#111" />
<circle cx="235.87" cy="144.5" r="1.05" fill="#111" />
<path d="M257.3,153.2 V147.7 H269.3 V155.2 M262.9,155.2 H276.4" stroke="#111" stroke-width="1.1" fill="none" />
<circle cx="259.85" cy="144.5" r="1.05" fill="#111" />
<circle cx="263.8" cy="144.5" r="1.05" fill="#111" />
<circle cx="267.75" cy="144.5" r="1.05" fill="#111" />
<path d="M287.3,156.4 V150 H299.9 V174.3 M293.2,174.3 H306.7" stroke="#111" stroke-width="1.1" fill="none" />
<circle cx="290.15" cy="146.9" r="1.05" fill="#111" />
<circle cx="294.1" cy="146.9" r="1.05" fill="#111" />
<circle cx="298.05" cy="146.9" r="1.05" fill="#111" />
<rect x="444.3" y="123.3" width="7.7" height="4.2" fill="#f7b512" />
<text x="453.5" y="128.2" font-size="7.3" fill="#111" stroke="#111" stroke-width="0.16" textLength="23.4" lengthAdjust="spacingAndGlyphs">-DMSO</text>
<rect x="444.3" y="132.92" width="7.7" height="4.2" fill="#c8102e" />
<text x="453.5" y="137.82" font-size="7.3" fill="#111" stroke="#111" stroke-width="0.16" textLength="22.5" lengthAdjust="spacingAndGlyphs">-CARF</text>
<rect x="444.3" y="142.54" width="7.7" height="4.2" fill="#30ad48" />
<text x="453.5" y="147.44" font-size="7.3" fill="#111" stroke="#111" stroke-width="0.16" textLength="55" lengthAdjust="spacingAndGlyphs">-CARF + Nelfinavir</text>
<rect x="444.3" y="152.16" width="7.7" height="4.2" fill="#f7870f" />
<text x="453.5" y="157.06" font-size="7.3" fill="#111" stroke="#111" stroke-width="0.16" textLength="57.5" lengthAdjust="spacingAndGlyphs">-CARF + Tariquidar</text>
<rect x="444.3" y="161.78" width="7.7" height="4.2" fill="#1ea3e0" />
<text x="453.5" y="166.68" font-size="7.3" fill="#111" stroke="#111" stroke-width="0.16" textLength="57.5" lengthAdjust="spacingAndGlyphs">-CARF + Verapamil</text>
<rect x="444.3" y="171.4" width="7.7" height="4.2" fill="#5a1b66" />
<text x="453.5" y="176.3" font-size="7.3" fill="#111" stroke="#111" stroke-width="0.16" textLength="58.5" lengthAdjust="spacingAndGlyphs">-CARF + Reserpine</text>
<text transform="translate(15.3,165.4) rotate(-90)" font-size="7.2" fill="#111" stroke="#111" stroke-width="0.16" text-anchor="middle" textLength="24.4" lengthAdjust="spacingAndGlyphs">Viability</text>
<text transform="translate(25.5,166.6) rotate(-90)" font-size="7.2" fill="#111" stroke="#111" stroke-width="0.16" text-anchor="middle" textLength="52.9" lengthAdjust="spacingAndGlyphs">[relative to control]</text>
<line x1="32.9" y1="264.1" x2="32.9" y2="348" stroke="#111" stroke-width="1.2" />
<line x1="32.5" y1="347.4" x2="153.8" y2="347.4" stroke="#111" stroke-width="1.3" />
<line x1="29.6" y1="347.4" x2="32.9" y2="347.4" stroke="#111" stroke-width="1.1" />
<text x="27.2" y="349.9" font-size="7.2" fill="#111" stroke="#111" stroke-width="0.16" text-anchor="end" textLength="4.4" lengthAdjust="spacingAndGlyphs">0</text>
<line x1="29.6" y1="326.7" x2="32.9" y2="326.7" stroke="#111" stroke-width="1.1" />
<text x="27.2" y="329.2" font-size="7.2" fill="#111" stroke="#111" stroke-width="0.16" text-anchor="end" textLength="8.8" lengthAdjust="spacingAndGlyphs">20</text>
<line x1="29.6" y1="306" x2="32.9" y2="306" stroke="#111" stroke-width="1.1" />
<text x="27.2" y="308.5" font-size="7.2" fill="#111" stroke="#111" stroke-width="0.16" text-anchor="end" textLength="8.8" lengthAdjust="spacingAndGlyphs">40</text>
<line x1="29.6" y1="285.3" x2="32.9" y2="285.3" stroke="#111" stroke-width="1.1" />
<text x="27.2" y="287.8" font-size="7.2" fill="#111" stroke="#111" stroke-width="0.16" text-anchor="end" textLength="8.8" lengthAdjust="spacingAndGlyphs">60</text>
<line x1="29.6" y1="264.6" x2="32.9" y2="264.6" stroke="#111" stroke-width="1.1" />
<text x="27.2" y="267.1" font-size="7.2" fill="#111" stroke="#111" stroke-width="0.16" text-anchor="end" textLength="8.8" lengthAdjust="spacingAndGlyphs">80</text>
<line x1="45.3" y1="347.4" x2="45.3" y2="350.2" stroke="#111" stroke-width="1" />
<line x1="70.4" y1="347.4" x2="70.4" y2="350.2" stroke="#111" stroke-width="1" />
<rect x="61.6" y="286.44" width="17.6" height="60.96" fill="#4f80ac" />
<line x1="70.4" y1="286.44" x2="70.4" y2="283.23" stroke="#111" stroke-width="1.2" />
<line x1="66.1" y1="283.23" x2="74.7" y2="283.23" stroke="#111" stroke-width="1.2" />
<line x1="95.3" y1="347.4" x2="95.3" y2="350.2" stroke="#111" stroke-width="1" />
<rect x="86.5" y="332.19" width="17.6" height="15.21" fill="#88aacb" />
<line x1="95.3" y1="332.19" x2="95.3" y2="326.91" stroke="#111" stroke-width="1.2" />
<line x1="91" y1="326.91" x2="99.6" y2="326.91" stroke="#111" stroke-width="1.2" />
<line x1="120.2" y1="347.4" x2="120.2" y2="350.2" stroke="#111" stroke-width="1" />
<rect x="111.4" y="292.75" width="17.6" height="54.65" fill="#c3d4e4" />
<line x1="120.2" y1="292.75" x2="120.2" y2="285.2" stroke="#111" stroke-width="1.2" />
<line x1="115.9" y1="285.2" x2="124.5" y2="285.2" stroke="#111" stroke-width="1.2" />
<line x1="145.2" y1="347.4" x2="145.2" y2="350.2" stroke="#111" stroke-width="1" />
<rect x="136.4" y="306.72" width="17.6" height="40.68" fill="#124a80" />
<line x1="145.2" y1="306.72" x2="145.2" y2="304.45" stroke="#111" stroke-width="1.2" />
<line x1="140.9" y1="304.45" x2="149.5" y2="304.45" stroke="#111" stroke-width="1.2" />
<path d="M70,281 V276.2 H93.7 V281" stroke="#111" stroke-width="1.1" fill="none" />
<circle cx="78.65" cy="273.3" r="1.05" fill="#111" />
<circle cx="82.6" cy="273.3" r="1.05" fill="#111" />
<circle cx="86.55" cy="273.3" r="1.05" fill="#111" />
<path d="M93.7,269.6 V264.2 H132.1 V277.1 M121.5,277.1 H144.6" stroke="#111" stroke-width="1.1" fill="none" />
<text transform="translate(48.1,357) rotate(-45)" font-size="6.9" fill="#111" stroke="#111" stroke-width="0.16" text-anchor="end">RPMI-DMSO</text>
<text transform="translate(73.2,357) rotate(-45)" font-size="6.9" fill="#111" stroke="#111" stroke-width="0.16" text-anchor="end">RPMI-DMSO</text>
<text transform="translate(98.1,357) rotate(-45)" font-size="6.9" fill="#111" stroke="#111" stroke-width="0.16" text-anchor="end">RPMI-CARF</text>
<text transform="translate(123,357) rotate(-45)" font-size="6.9" fill="#111" stroke="#111" stroke-width="0.16" text-anchor="end">RPMI-CARF + Tariquidar</text>
<text transform="translate(148,357) rotate(-45)" font-size="6.9" fill="#111" stroke="#111" stroke-width="0.16" text-anchor="end">RPMI-CARF + Verapamil</text>
<text transform="translate(15.8,306.5) rotate(-90)" font-size="8.3" fill="#111" stroke="#111" stroke-width="0.16" text-anchor="middle" textLength="43.8" lengthAdjust="spacingAndGlyphs">S63845 [pmol]</text>
<line x1="209.3" y1="263.2" x2="209.3" y2="345.5" stroke="#111" stroke-width="1.2" />
<line x1="208.7" y1="344.9" x2="330.7" y2="344.9" stroke="#111" stroke-width="1.3" />
<line x1="205.7" y1="344.9" x2="209.3" y2="344.9" stroke="#111" stroke-width="1.1" />
<text x="204.2" y="347.4" font-size="7.2" fill="#111" stroke="#111" stroke-width="0.16" text-anchor="end" textLength="4.5" lengthAdjust="spacingAndGlyphs">0</text>
<line x1="205.7" y1="317.83" x2="209.3" y2="317.83" stroke="#111" stroke-width="1.1" />
<text x="204.2" y="320.33" font-size="7.2" fill="#111" stroke="#111" stroke-width="0.16" text-anchor="end" textLength="18" lengthAdjust="spacingAndGlyphs">1000</text>
<line x1="205.7" y1="290.77" x2="209.3" y2="290.77" stroke="#111" stroke-width="1.1" />
<text x="204.2" y="293.27" font-size="7.2" fill="#111" stroke="#111" stroke-width="0.16" text-anchor="end" textLength="18" lengthAdjust="spacingAndGlyphs">2000</text>
<line x1="205.7" y1="263.7" x2="209.3" y2="263.7" stroke="#111" stroke-width="1.1" />
<text x="204.2" y="266.2" font-size="7.2" fill="#111" stroke="#111" stroke-width="0.16" text-anchor="end" textLength="18" lengthAdjust="spacingAndGlyphs">3000</text>
<rect x="213.2" y="342.3" width="5.3" height="2.6" fill="#124b84" />
<rect x="220.9" y="341" width="5.3" height="3.9" fill="#c8102e" />
<line x1="215.85" y1="342.3" x2="215.85" y2="340.3" stroke="#111" stroke-width="0.9" />
<path d="M214.55,340 L217.15,340 L215.85,341.7 Z" fill="#111"/>
<line x1="223.55" y1="341" x2="223.55" y2="340" stroke="#111" stroke-width="0.9" />
<path d="M222.25,339.7 L224.85,339.7 L223.55,341.4 Z" fill="#111"/>
<line x1="219.7" y1="344.9" x2="219.7" y2="347.7" stroke="#111" stroke-width="1" />
<rect x="233.3" y="314.3" width="5.3" height="30.6" fill="#124b84" />
<rect x="241" y="341.9" width="5.3" height="3" fill="#c8102e" />
<line x1="235.95" y1="314.3" x2="235.95" y2="302" stroke="#111" stroke-width="0.9" />
<path d="M234.65,301.7 L237.25,301.7 L235.95,303.4 Z" fill="#111"/>
<line x1="243.65" y1="341.9" x2="243.65" y2="339.5" stroke="#111" stroke-width="0.9" />
<path d="M242.35,339.2 L244.95,339.2 L243.65,340.9 Z" fill="#111"/>
<line x1="239.8" y1="344.9" x2="239.8" y2="347.7" stroke="#111" stroke-width="1" />
<rect x="253.4" y="341.9" width="5.3" height="3" fill="#124b84" />
<rect x="261.1" y="343.1" width="5.3" height="1.8" fill="#c8102e" />
<line x1="256.05" y1="341.9" x2="256.05" y2="338.7" stroke="#111" stroke-width="0.9" />
<path d="M254.75,338.4 L257.35,338.4 L256.05,340.1 Z" fill="#111"/>
<line x1="263.75" y1="343.1" x2="263.75" y2="341" stroke="#111" stroke-width="0.9" />
<path d="M262.45,340.7 L265.05,340.7 L263.75,342.4 Z" fill="#111"/>
<line x1="259.9" y1="344.9" x2="259.9" y2="347.7" stroke="#111" stroke-width="1" />
<rect x="273.5" y="316.8" width="5.3" height="28.1" fill="#124b84" />
<rect x="281.2" y="333.1" width="5.3" height="11.8" fill="#c8102e" />
<line x1="276.15" y1="316.8" x2="276.15" y2="302.8" stroke="#111" stroke-width="0.9" />
<path d="M274.85,302.5 L277.45,302.5 L276.15,304.2 Z" fill="#111"/>
<line x1="283.85" y1="333.1" x2="283.85" y2="328.3" stroke="#111" stroke-width="0.9" />
<path d="M282.55,328 L285.15,328 L283.85,329.7 Z" fill="#111"/>
<line x1="280" y1="344.9" x2="280" y2="347.7" stroke="#111" stroke-width="1" />
<rect x="293.6" y="342.6" width="5.3" height="2.3" fill="#124b84" />
<rect x="301.3" y="344" width="5.3" height="0.9" fill="#c8102e" />
<line x1="296.25" y1="342.6" x2="296.25" y2="341" stroke="#111" stroke-width="0.9" />
<path d="M294.95,340.7 L297.55,340.7 L296.25,342.4 Z" fill="#111"/>
<line x1="303.95" y1="344" x2="303.95" y2="338.2" stroke="#111" stroke-width="0.9" />
<path d="M302.65,337.9 L305.25,337.9 L303.95,339.6 Z" fill="#111"/>
<line x1="300.1" y1="344.9" x2="300.1" y2="347.7" stroke="#111" stroke-width="1" />
<rect x="313.8" y="306.8" width="5.3" height="38.1" fill="#124b84" />
<rect x="321.5" y="337.1" width="5.3" height="7.8" fill="#c8102e" />
<line x1="316.45" y1="306.8" x2="316.45" y2="272.5" stroke="#111" stroke-width="0.9" />
<path d="M315.15,272.2 L317.75,272.2 L316.45,273.9 Z" fill="#111"/>
<line x1="324.15" y1="337.1" x2="324.15" y2="334.7" stroke="#111" stroke-width="0.9" />
<path d="M322.85,334.4 L325.45,334.4 L324.15,336.1 Z" fill="#111"/>
<line x1="320.3" y1="344.9" x2="320.3" y2="347.7" stroke="#111" stroke-width="1" />
<text transform="translate(221.2,354) rotate(-45)" font-size="7.3" fill="#111" stroke="#111" stroke-width="0.16" text-anchor="end">DMSO</text>
<text transform="translate(241.3,354) rotate(-45)" font-size="7.3" fill="#111" stroke="#111" stroke-width="0.16" text-anchor="end">S63845 [100 nM]</text>
<text transform="translate(261.4,354) rotate(-45)" font-size="7.3" fill="#111" stroke="#111" stroke-width="0.16" text-anchor="end">Tariquidar [500 nM]</text>
<text transform="translate(281.5,354) rotate(-45)" font-size="7.3" fill="#111" stroke="#111" stroke-width="0.16" text-anchor="end">S63845 + Tariquidar</text>
<text transform="translate(301.6,354) rotate(-45)" font-size="7.3" fill="#111" stroke="#111" stroke-width="0.16" text-anchor="end">Nelfinavir [10 &#181;M]</text>
<text transform="translate(321.8,354) rotate(-45)" font-size="7.3" fill="#111" stroke="#111" stroke-width="0.16" text-anchor="end">S63845 + Nelfinavir</text>
<rect x="212" y="266.5" width="8.8" height="4.5" fill="#124b84" />
<rect x="212" y="276.5" width="8.8" height="4.3" fill="#c8102e" />
<text x="224" y="271.1" font-size="7.4" fill="#111" stroke="#111" stroke-width="0.16" textLength="40" lengthAdjust="spacingAndGlyphs">RPMI-DMSO</text>
<text x="224" y="281.2" font-size="7.4" fill="#111" stroke="#111" stroke-width="0.16" textLength="38" lengthAdjust="spacingAndGlyphs">RPMI-CARF</text>
<line x1="380.2" y1="263" x2="380.2" y2="345.3" stroke="#111" stroke-width="1.2" />
<line x1="379.6" y1="344.7" x2="501.4" y2="344.7" stroke="#111" stroke-width="1.3" />
<line x1="376.6" y1="344.7" x2="380.2" y2="344.7" stroke="#111" stroke-width="1.1" />
<text x="374.5" y="347.2" font-size="7.2" fill="#111" stroke="#111" stroke-width="0.16" text-anchor="end" textLength="4.5" lengthAdjust="spacingAndGlyphs">0</text>
<line x1="376.6" y1="317.63" x2="380.2" y2="317.63" stroke="#111" stroke-width="1.1" />
<text x="374.5" y="320.13" font-size="7.2" fill="#111" stroke="#111" stroke-width="0.16" text-anchor="end" textLength="18" lengthAdjust="spacingAndGlyphs">1000</text>
<line x1="376.6" y1="290.57" x2="380.2" y2="290.57" stroke="#111" stroke-width="1.1" />
<text x="374.5" y="293.07" font-size="7.2" fill="#111" stroke="#111" stroke-width="0.16" text-anchor="end" textLength="18" lengthAdjust="spacingAndGlyphs">2000</text>
<line x1="376.6" y1="263.5" x2="380.2" y2="263.5" stroke="#111" stroke-width="1.1" />
<text x="374.5" y="266" font-size="7.2" fill="#111" stroke="#111" stroke-width="0.16" text-anchor="end" textLength="18" lengthAdjust="spacingAndGlyphs">3000</text>
<rect x="384" y="341.6" width="5.3" height="3.1" fill="#124b84" />
<rect x="391.7" y="342.4" width="5.3" height="2.3" fill="#c8102e" />
<line x1="386.65" y1="341.6" x2="386.65" y2="340" stroke="#111" stroke-width="0.9" />
<path d="M385.35,339.7 L387.95,339.7 L386.65,341.4 Z" fill="#111"/>
<line x1="390.5" y1="344.7" x2="390.5" y2="347.5" stroke="#111" stroke-width="1" />
<rect x="404.1" y="311.4" width="5.3" height="33.3" fill="#124b84" />
<rect x="411.8" y="342.1" width="5.3" height="2.6" fill="#c8102e" />
<line x1="406.75" y1="311.4" x2="406.75" y2="300.5" stroke="#111" stroke-width="0.9" />
<path d="M405.45,300.2 L408.05,300.2 L406.75,301.9 Z" fill="#111"/>
<line x1="410.6" y1="344.7" x2="410.6" y2="347.5" stroke="#111" stroke-width="1" />
<rect x="424.2" y="341.2" width="5.3" height="3.5" fill="#124b84" />
<rect x="431.9" y="341.6" width="5.3" height="3.1" fill="#c8102e" />
<line x1="426.85" y1="341.2" x2="426.85" y2="338" stroke="#111" stroke-width="0.9" />
<path d="M425.55,337.7 L428.15,337.7 L426.85,339.4 Z" fill="#111"/>
<line x1="430.7" y1="344.7" x2="430.7" y2="347.5" stroke="#111" stroke-width="1" />
<rect x="444.3" y="309" width="5.3" height="35.7" fill="#124b84" />
<rect x="452" y="293" width="5.3" height="51.7" fill="#c8102e" />
<line x1="446.95" y1="309" x2="446.95" y2="303.4" stroke="#111" stroke-width="0.9" />
<path d="M445.65,303.1 L448.25,303.1 L446.95,304.8 Z" fill="#111"/>
<line x1="454.65" y1="293" x2="454.65" y2="283.5" stroke="#111" stroke-width="0.9" />
<path d="M453.35,283.2 L455.95,283.2 L454.65,284.9 Z" fill="#111"/>
<line x1="450.8" y1="344.7" x2="450.8" y2="347.5" stroke="#111" stroke-width="1" />
<rect x="464.4" y="342.1" width="5.3" height="2.6" fill="#124b84" />
<rect x="472.1" y="339.7" width="5.3" height="5" fill="#c8102e" />
<line x1="467.05" y1="342.1" x2="467.05" y2="340" stroke="#111" stroke-width="0.9" />
<path d="M465.75,339.7 L468.35,339.7 L467.05,341.4 Z" fill="#111"/>
<line x1="474.75" y1="339.7" x2="474.75" y2="334.5" stroke="#111" stroke-width="0.9" />
<path d="M473.45,334.2 L476.05,334.2 L474.75,335.9 Z" fill="#111"/>
<line x1="470.9" y1="344.7" x2="470.9" y2="347.5" stroke="#111" stroke-width="1" />
<rect x="484.5" y="303.9" width="5.3" height="40.8" fill="#124b84" />
<rect x="492.2" y="286.7" width="5.3" height="58" fill="#c8102e" />
<line x1="487.15" y1="303.9" x2="487.15" y2="296.2" stroke="#111" stroke-width="0.9" />
<path d="M485.85,295.9 L488.45,295.9 L487.15,297.6 Z" fill="#111"/>
<line x1="494.85" y1="286.7" x2="494.85" y2="276.3" stroke="#111" stroke-width="0.9" />
<path d="M493.55,276 L496.15,276 L494.85,277.7 Z" fill="#111"/>
<line x1="491" y1="344.7" x2="491" y2="347.5" stroke="#111" stroke-width="1" />
<text transform="translate(392,352.5) rotate(-45)" font-size="7.3" fill="#111" stroke="#111" stroke-width="0.16" text-anchor="end">DMSO</text>
<text transform="translate(412.1,352.5) rotate(-45)" font-size="7.3" fill="#111" stroke="#111" stroke-width="0.16" text-anchor="end">S63845 [100 nM]</text>
<text transform="translate(432.2,352.5) rotate(-45)" font-size="7.3" fill="#111" stroke="#111" stroke-width="0.16" text-anchor="end">Tariquidar [500 nM]</text>
<text transform="translate(452.3,352.5) rotate(-45)" font-size="7.3" fill="#111" stroke="#111" stroke-width="0.16" text-anchor="end">S63845 + Tariquidar</text>
<text transform="translate(472.4,352.5) rotate(-45)" font-size="7.3" fill="#111" stroke="#111" stroke-width="0.16" text-anchor="end">Nelfinavir [10 &#181;M]</text>
<text transform="translate(492.5,352.5) rotate(-45)" font-size="7.3" fill="#111" stroke="#111" stroke-width="0.16" text-anchor="end">S63845 + Nelfinavir</text>
<rect x="383" y="265.1" width="8.8" height="4.5" fill="#124b84" />
<rect x="383" y="275.3" width="8.8" height="4.3" fill="#c8102e" />
<text x="395" y="269.7" font-size="7.4" fill="#111" stroke="#111" stroke-width="0.16" textLength="44" lengthAdjust="spacingAndGlyphs">OPM2-DMSO</text>
<text x="395" y="280" font-size="7.4" fill="#111" stroke="#111" stroke-width="0.16" textLength="41.7" lengthAdjust="spacingAndGlyphs">OPM2-CARF</text>
<text transform="translate(181.9,306) rotate(-90)" font-size="8" fill="#111" stroke="#111" stroke-width="0.16" text-anchor="middle" textLength="52.6" lengthAdjust="spacingAndGlyphs">BAK activity (MFI)</text>
<text transform="translate(353.8,306.2) rotate(-90)" font-size="8" fill="#111" stroke="#111" stroke-width="0.16" text-anchor="middle" textLength="53.4" lengthAdjust="spacingAndGlyphs">BAK activity (MFI)</text>
<circle cx="239.9" cy="287.7" r="1.2" fill="#111" />
<line x1="236.9" y1="293.8" x2="243.1" y2="293.8" stroke="#111" stroke-width="1.4" />
<path d="M243.8,322.7 V297.7 H285.2 V310" stroke="#111" stroke-width="1.1" fill="none" />
<circle cx="264.5" cy="294.5" r="1.2" fill="#111" />
<circle cx="321.6" cy="263.8" r="1.2" fill="#111" />
<line x1="318.2" y1="267.2" x2="323.8" y2="267.2" stroke="#111" stroke-width="1.4" />
<path d="M414.1,262.7 V258.9 H496.1 V270.7" stroke="#111" stroke-width="1.1" fill="none" />
<circle cx="452.65" cy="256.4" r="1.05" fill="#111" />
<circle cx="456.6" cy="256.4" r="1.05" fill="#111" />
<circle cx="460.55" cy="256.4" r="1.05" fill="#111" />
<circle cx="406.55" cy="288.3" r="1.05" fill="#111" />
<circle cx="410.5" cy="288.3" r="1.05" fill="#111" />
<circle cx="414.45" cy="288.3" r="1.05" fill="#111" />
<line x1="402" y1="294.3" x2="419.6" y2="294.3" stroke="#111" stroke-width="1.3" />
<path d="M414.7,315.3 V291.8 H455 V293" stroke="#111" stroke-width="1.1" fill="none" />
<circle cx="431.85" cy="288.2" r="1.05" fill="#111" />
<circle cx="435.8" cy="288.2" r="1.05" fill="#111" />
<circle cx="439.75" cy="288.2" r="1.05" fill="#111" />
<circle cx="450.3" cy="275.5" r="1.2" fill="#111" />
<line x1="447.5" y1="280.1" x2="453.4" y2="280.1" stroke="#111" stroke-width="1.4" />
<circle cx="491.3" cy="268.8" r="1.2" fill="#111" />
<line x1="488.6" y1="273.2" x2="494.2" y2="273.2" stroke="#111" stroke-width="1.4" />
<line x1="52.1" y1="417.3" x2="150.7" y2="417.3" stroke="#111" stroke-width="1.4" />
<text x="64.2" y="429" font-size="7.6" fill="#111" stroke="#111" stroke-width="0.16" textLength="63.8" lengthAdjust="spacingAndGlyphs">+ 100 nM S63845</text>
<line x1="34.5" y1="443.4" x2="34.5" y2="508.3" stroke="#111" stroke-width="1.2" />
<line x1="33.9" y1="507.7" x2="138.1" y2="507.7" stroke="#111" stroke-width="1.3" />
<line x1="30.9" y1="452.3" x2="34.5" y2="452.3" stroke="#111" stroke-width="1.1" />
<text x="28.7" y="454.8" font-size="7.2" fill="#111" stroke="#111" stroke-width="0.16" text-anchor="end" textLength="13.35" lengthAdjust="spacingAndGlyphs">100</text>
<line x1="30.9" y1="480" x2="34.5" y2="480" stroke="#111" stroke-width="1.1" />
<text x="28.7" y="482.5" font-size="7.2" fill="#111" stroke="#111" stroke-width="0.16" text-anchor="end" textLength="8.9" lengthAdjust="spacingAndGlyphs">50</text>
<line x1="30.9" y1="507.7" x2="34.5" y2="507.7" stroke="#111" stroke-width="1.1" />
<text x="28.7" y="510.2" font-size="7.2" fill="#111" stroke="#111" stroke-width="0.16" text-anchor="end" textLength="4.45" lengthAdjust="spacingAndGlyphs">0</text>
<line x1="34.6" y1="507.7" x2="34.6" y2="510.3" stroke="#111" stroke-width="1" />
<line x1="39.79" y1="507.7" x2="39.79" y2="509.2" stroke="#111" stroke-width="0.7" />
<line x1="42.83" y1="507.7" x2="42.83" y2="509.2" stroke="#111" stroke-width="0.7" />
<line x1="44.99" y1="507.7" x2="44.99" y2="509.2" stroke="#111" stroke-width="0.7" />
<line x1="46.66" y1="507.7" x2="46.66" y2="509.2" stroke="#111" stroke-width="0.7" />
<line x1="48.02" y1="507.7" x2="48.02" y2="509.2" stroke="#111" stroke-width="0.7" />
<line x1="49.18" y1="507.7" x2="49.18" y2="509.2" stroke="#111" stroke-width="0.7" />
<line x1="50.18" y1="507.7" x2="50.18" y2="509.2" stroke="#111" stroke-width="0.7" />
<line x1="51.06" y1="507.7" x2="51.06" y2="509.2" stroke="#111" stroke-width="0.7" />
<line x1="51.85" y1="507.7" x2="51.85" y2="510.3" stroke="#111" stroke-width="1" />
<line x1="57.04" y1="507.7" x2="57.04" y2="509.2" stroke="#111" stroke-width="0.7" />
<line x1="60.08" y1="507.7" x2="60.08" y2="509.2" stroke="#111" stroke-width="0.7" />
<line x1="62.24" y1="507.7" x2="62.24" y2="509.2" stroke="#111" stroke-width="0.7" />
<line x1="63.91" y1="507.7" x2="63.91" y2="509.2" stroke="#111" stroke-width="0.7" />
<line x1="65.27" y1="507.7" x2="65.27" y2="509.2" stroke="#111" stroke-width="0.7" />
<line x1="66.43" y1="507.7" x2="66.43" y2="509.2" stroke="#111" stroke-width="0.7" />
<line x1="67.43" y1="507.7" x2="67.43" y2="509.2" stroke="#111" stroke-width="0.7" />
<line x1="68.31" y1="507.7" x2="68.31" y2="509.2" stroke="#111" stroke-width="0.7" />
<line x1="69.1" y1="507.7" x2="69.1" y2="510.3" stroke="#111" stroke-width="1" />
<line x1="74.29" y1="507.7" x2="74.29" y2="509.2" stroke="#111" stroke-width="0.7" />
<line x1="77.33" y1="507.7" x2="77.33" y2="509.2" stroke="#111" stroke-width="0.7" />
<line x1="79.49" y1="507.7" x2="79.49" y2="509.2" stroke="#111" stroke-width="0.7" />
<line x1="81.16" y1="507.7" x2="81.16" y2="509.2" stroke="#111" stroke-width="0.7" />
<line x1="82.52" y1="507.7" x2="82.52" y2="509.2" stroke="#111" stroke-width="0.7" />
<line x1="83.68" y1="507.7" x2="83.68" y2="509.2" stroke="#111" stroke-width="0.7" />
<line x1="84.68" y1="507.7" x2="84.68" y2="509.2" stroke="#111" stroke-width="0.7" />
<line x1="85.56" y1="507.7" x2="85.56" y2="509.2" stroke="#111" stroke-width="0.7" />
<line x1="86.35" y1="507.7" x2="86.35" y2="510.3" stroke="#111" stroke-width="1" />
<line x1="91.54" y1="507.7" x2="91.54" y2="509.2" stroke="#111" stroke-width="0.7" />
<line x1="94.58" y1="507.7" x2="94.58" y2="509.2" stroke="#111" stroke-width="0.7" />
<line x1="96.74" y1="507.7" x2="96.74" y2="509.2" stroke="#111" stroke-width="0.7" />
<line x1="98.41" y1="507.7" x2="98.41" y2="509.2" stroke="#111" stroke-width="0.7" />
<line x1="99.77" y1="507.7" x2="99.77" y2="509.2" stroke="#111" stroke-width="0.7" />
<line x1="100.93" y1="507.7" x2="100.93" y2="509.2" stroke="#111" stroke-width="0.7" />
<line x1="101.93" y1="507.7" x2="101.93" y2="509.2" stroke="#111" stroke-width="0.7" />
<line x1="102.81" y1="507.7" x2="102.81" y2="509.2" stroke="#111" stroke-width="0.7" />
<line x1="103.6" y1="507.7" x2="103.6" y2="510.3" stroke="#111" stroke-width="1" />
<line x1="108.79" y1="507.7" x2="108.79" y2="509.2" stroke="#111" stroke-width="0.7" />
<line x1="111.83" y1="507.7" x2="111.83" y2="509.2" stroke="#111" stroke-width="0.7" />
<line x1="113.99" y1="507.7" x2="113.99" y2="509.2" stroke="#111" stroke-width="0.7" />
<line x1="115.66" y1="507.7" x2="115.66" y2="509.2" stroke="#111" stroke-width="0.7" />
<line x1="117.02" y1="507.7" x2="117.02" y2="509.2" stroke="#111" stroke-width="0.7" />
<line x1="118.18" y1="507.7" x2="118.18" y2="509.2" stroke="#111" stroke-width="0.7" />
<line x1="119.18" y1="507.7" x2="119.18" y2="509.2" stroke="#111" stroke-width="0.7" />
<line x1="120.06" y1="507.7" x2="120.06" y2="509.2" stroke="#111" stroke-width="0.7" />
<line x1="120.85" y1="507.7" x2="120.85" y2="510.3" stroke="#111" stroke-width="1" />
<line x1="126.04" y1="507.7" x2="126.04" y2="509.2" stroke="#111" stroke-width="0.7" />
<line x1="129.08" y1="507.7" x2="129.08" y2="509.2" stroke="#111" stroke-width="0.7" />
<line x1="131.24" y1="507.7" x2="131.24" y2="509.2" stroke="#111" stroke-width="0.7" />
<line x1="132.91" y1="507.7" x2="132.91" y2="509.2" stroke="#111" stroke-width="0.7" />
<line x1="134.27" y1="507.7" x2="134.27" y2="509.2" stroke="#111" stroke-width="0.7" />
<line x1="135.43" y1="507.7" x2="135.43" y2="509.2" stroke="#111" stroke-width="0.7" />
<line x1="136.43" y1="507.7" x2="136.43" y2="509.2" stroke="#111" stroke-width="0.7" />
<line x1="137.31" y1="507.7" x2="137.31" y2="509.2" stroke="#111" stroke-width="0.7" />
<line x1="138.1" y1="507.7" x2="138.1" y2="510.3" stroke="#111" stroke-width="1" />
<text x="35.5" y="517.3" font-size="7.6" fill="#111" stroke="#111" stroke-width="0.16" text-anchor="middle">10<tspan font-size="5.8" dy="-3.3">&#8722;4</tspan></text>
<text x="52.75" y="517.3" font-size="7.6" fill="#111" stroke="#111" stroke-width="0.16" text-anchor="middle">10<tspan font-size="5.8" dy="-3.3">&#8722;3</tspan></text>
<text x="70" y="517.3" font-size="7.6" fill="#111" stroke="#111" stroke-width="0.16" text-anchor="middle">10<tspan font-size="5.8" dy="-3.3">&#8722;2</tspan></text>
<text x="87.25" y="517.3" font-size="7.6" fill="#111" stroke="#111" stroke-width="0.16" text-anchor="middle">10<tspan font-size="5.8" dy="-3.3">&#8722;1</tspan></text>
<text x="104.5" y="517.3" font-size="7.6" fill="#111" stroke="#111" stroke-width="0.16" text-anchor="middle">10<tspan font-size="5.8" dy="-3.3">0</tspan></text>
<text x="121.75" y="517.3" font-size="7.6" fill="#111" stroke="#111" stroke-width="0.16" text-anchor="middle">10<tspan font-size="5.8" dy="-3.3">1</tspan></text>
<text x="139" y="517.3" font-size="7.6" fill="#111" stroke="#111" stroke-width="0.16" text-anchor="middle">10<tspan font-size="5.8" dy="-3.3">2</tspan></text>
<path d="M51.9,452.3 L52.4,452.3 L52.9,452.3 L53.4,452.3 L53.9,452.3 L54.4,452.3 L54.9,452.3 L55.4,452.3 L55.9,452.3 L56.4,452.3 L56.9,452.3 L57.4,452.3 L57.9,452.3 L58.4,452.3 L58.9,452.3 L59.4,452.3 L59.9,452.3 L60.4,452.3 L60.9,452.3 L61.4,452.3 L61.9,452.3 L62.4,452.3 L62.9,452.3 L63.4,452.3 L63.9,452.3 L64.4,452.3 L64.9,452.3 L65.4,452.3 L65.9,452.3 L66.4,452.3 L66.9,452.3 L67.4,452.3 L67.9,452.3 L68.4,452.3 L68.9,452.3 L69.4,452.3 L69.9,452.3 L70.4,452.3 L70.9,452.3 L71.4,452.3 L71.9,452.3 L72.4,452.3 L72.9,452.3 L73.4,452.3 L73.9,452.3 L74.4,452.3 L74.9,452.3 L75.4,452.3 L75.9,452.3 L76.4,452.3 L76.9,452.3 L77.4,452.3 L77.9,452.3 L78.4,452.3 L78.9,452.3 L79.4,452.3 L79.9,452.3 L80.4,452.3 L80.9,452.3 L81.4,452.3 L81.9,452.3 L82.4,452.3 L82.9,452.3 L83.4,452.3 L83.9,452.3 L84.4,452.3 L84.9,452.3 L85.4,452.3 L85.9,452.3 L86.4,452.3 L86.9,452.3 L87.4,452.31 L87.9,452.31 L88.4,452.31 L88.9,452.31 L89.4,452.31 L89.9,452.31 L90.4,452.32 L90.9,452.32 L91.4,452.33 L91.9,452.33 L92.4,452.34 L92.9,452.35 L93.4,452.36 L93.9,452.38 L94.4,452.39 L94.9,452.42 L95.4,452.44 L95.9,452.48 L96.4,452.52 L96.9,452.57 L97.4,452.63 L97.9,452.7 L98.4,452.8 L98.9,452.91 L99.4,453.05 L99.9,453.22 L100.4,453.43 L100.9,453.68 L101.4,453.99 L101.9,454.37 L102.4,454.83 L102.9,455.38 L103.4,456.04 L103.9,456.84 L104.4,457.78 L104.9,458.9 L105.4,460.21 L105.9,461.74 L106.4,463.48 L106.9,465.46 L107.4,467.66 L107.9,470.07 L108.4,472.68 L108.9,475.43 L109.4,478.27 L109.9,481.15 L110.4,484.01 L110.9,486.78 L111.4,489.42 L111.9,491.88 L112.4,494.12 L112.9,496.14 L113.4,497.93 L113.9,499.5 L114.4,500.85 L114.9,502.01 L115.4,502.99 L115.9,503.81 L116.4,504.5 L116.9,505.07 L117.4,505.55 L117.9,505.94 L118.4,506.26 L118.9,506.53 L119.4,506.74 L119.9,506.92 L120.4,507.07 L120.9,507.18 L121.4,507.28 L121.9,507.36" stroke="#134d86" stroke-width="1.5" fill="none" />
<path d="M92,452.3 L92.5,452.3 L93,452.3 L93.5,452.3 L94,452.3 L94.5,452.3 L95,452.3 L95.5,452.3 L96,452.3 L96.5,452.3 L97,452.3 L97.5,452.3 L98,452.3 L98.5,452.3 L99,452.3 L99.5,452.3 L100,452.3 L100.5,452.3 L101,452.3 L101.5,452.3 L102,452.3 L102.5,452.3 L103,452.3 L103.5,452.3 L104,452.3 L104.5,452.3 L105,452.3 L105.5,452.3 L106,452.3 L106.5,452.3 L107,452.31 L107.5,452.31 L108,452.31 L108.5,452.32 L109,452.32 L109.5,452.33 L110,452.35 L110.5,452.37 L111,452.4 L111.5,452.45 L112,452.51 L112.5,452.61 L113,452.75 L113.5,452.94 L114,453.23 L114.5,453.63 L115,454.21 L115.5,455.02 L116,456.16 L116.5,457.72 L117,459.82 L117.5,462.56 L118,466.02 L118.5,470.19 L119,474.93 L119.5,480 L120,485.07 L120.5,489.81 L121,493.98 L121.5,497.44 L122,500.18 L122.5,502.28 L123,503.84 L123.5,504.98 L124,505.79 L124.5,506.37 L125,506.77 L125.5,507.06 L126,507.25 L126.5,507.39 L127,507.49" stroke="#e5097f" stroke-width="1.5" fill="none" />
<path d="M108,452.3 L108.5,452.3 L109,452.3 L109.5,452.3 L110,452.3 L110.5,452.3 L111,452.3 L111.5,452.3 L112,452.3 L112.5,452.3 L113,452.3 L113.5,452.3 L114,452.3 L114.5,452.3 L115,452.3 L115.5,452.3 L116,452.3 L116.5,452.3 L117,452.3 L117.5,452.3 L118,452.3 L118.5,452.3 L119,452.3 L119.5,452.3 L120,452.3 L120.5,452.3 L121,452.3 L121.5,452.31 L122,452.32 L122.5,452.35 L123,452.44 L123.5,452.67 L124,453.3 L124.5,454.93 L125,458.9 L125.5,467.2 L126,480 L126.5,492.8 L127,501.1 L127.5,505.07 L128,506.7 L128.5,507.33 L129,507.56 L129.5,507.65 L130,507.68 L130.5,507.69 L131,507.7" stroke="#c4122f" stroke-width="1.5" fill="none" />
<rect x="50.8" y="451.2" width="2.2" height="2.2" fill="#111" />
<rect x="67.5" y="447.9" width="2.2" height="2.2" fill="#111" />
<circle cx="68.6" cy="452.3" r="1.15" fill="#111" />
<rect x="85.1" y="445.9" width="2.2" height="2.2" fill="#111" />
<circle cx="86.2" cy="452.3" r="1.15" fill="#111" />
<rect x="102.3" y="445.4" width="2.2" height="2.2" fill="#111" />
<circle cx="103.4" cy="449.5" r="1.15" fill="#111" />
<circle cx="103.4" cy="457.6" r="1.15" fill="#111" />
<circle cx="110.1" cy="476.6" r="1.15" fill="#111" />
<rect x="109.2" y="448.4" width="2.2" height="2.2" fill="#111" />
<circle cx="115.5" cy="500.7" r="1.15" fill="#111" />
<rect x="114.7" y="448.9" width="2.2" height="2.2" fill="#111" />
<rect x="117.6" y="469.5" width="2.2" height="2.2" fill="#111" />
<rect x="119.8" y="489.2" width="2.2" height="2.2" fill="#111" />
<circle cx="119.4" cy="450.5" r="1.15" fill="#111" />
<circle cx="126.2" cy="491" r="1.15" fill="#111" />
<circle cx="122.5" cy="452" r="1.15" fill="#111" />
<circle cx="118" cy="505.5" r="1.15" fill="#111" />
<rect x="123.4" y="505.4" width="2.2" height="2.2" fill="#111" />
<circle cx="128" cy="507" r="1.15" fill="#111" />
<text x="61.1" y="527.4" font-size="8.4" fill="#111" stroke="#111" stroke-width="0.16" textLength="48.4" lengthAdjust="spacingAndGlyphs">A-1210477 [&#181;M]</text>
<line x1="35" y1="530.2" x2="35" y2="599.4" stroke="#111" stroke-width="1.2" />
<line x1="34.4" y1="598.8" x2="136.44" y2="598.8" stroke="#111" stroke-width="1.3" />
<line x1="31.4" y1="543.5" x2="35" y2="543.5" stroke="#111" stroke-width="1.1" />
<text x="29.2" y="546" font-size="7.2" fill="#111" stroke="#111" stroke-width="0.16" text-anchor="end" textLength="13.35" lengthAdjust="spacingAndGlyphs">100</text>
<line x1="31.4" y1="571.15" x2="35" y2="571.15" stroke="#111" stroke-width="1.1" />
<text x="29.2" y="573.65" font-size="7.2" fill="#111" stroke="#111" stroke-width="0.16" text-anchor="end" textLength="8.9" lengthAdjust="spacingAndGlyphs">50</text>
<line x1="31.4" y1="598.8" x2="35" y2="598.8" stroke="#111" stroke-width="1.1" />
<text x="29.2" y="601.3" font-size="7.2" fill="#111" stroke="#111" stroke-width="0.16" text-anchor="end" textLength="4.45" lengthAdjust="spacingAndGlyphs">0</text>
<line x1="35" y1="598.8" x2="35" y2="601.4" stroke="#111" stroke-width="1" />
<line x1="38.82" y1="598.8" x2="38.82" y2="600.3" stroke="#111" stroke-width="0.7" />
<line x1="41.05" y1="598.8" x2="41.05" y2="600.3" stroke="#111" stroke-width="0.7" />
<line x1="42.63" y1="598.8" x2="42.63" y2="600.3" stroke="#111" stroke-width="0.7" />
<line x1="43.86" y1="598.8" x2="43.86" y2="600.3" stroke="#111" stroke-width="0.7" />
<line x1="44.87" y1="598.8" x2="44.87" y2="600.3" stroke="#111" stroke-width="0.7" />
<line x1="45.72" y1="598.8" x2="45.72" y2="600.3" stroke="#111" stroke-width="0.7" />
<line x1="46.45" y1="598.8" x2="46.45" y2="600.3" stroke="#111" stroke-width="0.7" />
<line x1="47.1" y1="598.8" x2="47.1" y2="600.3" stroke="#111" stroke-width="0.7" />
<line x1="47.68" y1="598.8" x2="47.68" y2="601.4" stroke="#111" stroke-width="1" />
<line x1="51.5" y1="598.8" x2="51.5" y2="600.3" stroke="#111" stroke-width="0.7" />
<line x1="53.73" y1="598.8" x2="53.73" y2="600.3" stroke="#111" stroke-width="0.7" />
<line x1="55.31" y1="598.8" x2="55.31" y2="600.3" stroke="#111" stroke-width="0.7" />
<line x1="56.54" y1="598.8" x2="56.54" y2="600.3" stroke="#111" stroke-width="0.7" />
<line x1="57.55" y1="598.8" x2="57.55" y2="600.3" stroke="#111" stroke-width="0.7" />
<line x1="58.4" y1="598.8" x2="58.4" y2="600.3" stroke="#111" stroke-width="0.7" />
<line x1="59.13" y1="598.8" x2="59.13" y2="600.3" stroke="#111" stroke-width="0.7" />
<line x1="59.78" y1="598.8" x2="59.78" y2="600.3" stroke="#111" stroke-width="0.7" />
<line x1="60.36" y1="598.8" x2="60.36" y2="601.4" stroke="#111" stroke-width="1" />
<line x1="64.18" y1="598.8" x2="64.18" y2="600.3" stroke="#111" stroke-width="0.7" />
<line x1="66.41" y1="598.8" x2="66.41" y2="600.3" stroke="#111" stroke-width="0.7" />
<line x1="67.99" y1="598.8" x2="67.99" y2="600.3" stroke="#111" stroke-width="0.7" />
<line x1="69.22" y1="598.8" x2="69.22" y2="600.3" stroke="#111" stroke-width="0.7" />
<line x1="70.23" y1="598.8" x2="70.23" y2="600.3" stroke="#111" stroke-width="0.7" />
<line x1="71.08" y1="598.8" x2="71.08" y2="600.3" stroke="#111" stroke-width="0.7" />
<line x1="71.81" y1="598.8" x2="71.81" y2="600.3" stroke="#111" stroke-width="0.7" />
<line x1="72.46" y1="598.8" x2="72.46" y2="600.3" stroke="#111" stroke-width="0.7" />
<line x1="73.04" y1="598.8" x2="73.04" y2="601.4" stroke="#111" stroke-width="1" />
<line x1="76.86" y1="598.8" x2="76.86" y2="600.3" stroke="#111" stroke-width="0.7" />
<line x1="79.09" y1="598.8" x2="79.09" y2="600.3" stroke="#111" stroke-width="0.7" />
<line x1="80.67" y1="598.8" x2="80.67" y2="600.3" stroke="#111" stroke-width="0.7" />
<line x1="81.9" y1="598.8" x2="81.9" y2="600.3" stroke="#111" stroke-width="0.7" />
<line x1="82.91" y1="598.8" x2="82.91" y2="600.3" stroke="#111" stroke-width="0.7" />
<line x1="83.76" y1="598.8" x2="83.76" y2="600.3" stroke="#111" stroke-width="0.7" />
<line x1="84.49" y1="598.8" x2="84.49" y2="600.3" stroke="#111" stroke-width="0.7" />
<line x1="85.14" y1="598.8" x2="85.14" y2="600.3" stroke="#111" stroke-width="0.7" />
<line x1="85.72" y1="598.8" x2="85.72" y2="601.4" stroke="#111" stroke-width="1" />
<line x1="89.54" y1="598.8" x2="89.54" y2="600.3" stroke="#111" stroke-width="0.7" />
<line x1="91.77" y1="598.8" x2="91.77" y2="600.3" stroke="#111" stroke-width="0.7" />
<line x1="93.35" y1="598.8" x2="93.35" y2="600.3" stroke="#111" stroke-width="0.7" />
<line x1="94.58" y1="598.8" x2="94.58" y2="600.3" stroke="#111" stroke-width="0.7" />
<line x1="95.59" y1="598.8" x2="95.59" y2="600.3" stroke="#111" stroke-width="0.7" />
<line x1="96.44" y1="598.8" x2="96.44" y2="600.3" stroke="#111" stroke-width="0.7" />
<line x1="97.17" y1="598.8" x2="97.17" y2="600.3" stroke="#111" stroke-width="0.7" />
<line x1="97.82" y1="598.8" x2="97.82" y2="600.3" stroke="#111" stroke-width="0.7" />
<line x1="98.4" y1="598.8" x2="98.4" y2="601.4" stroke="#111" stroke-width="1" />
<line x1="102.22" y1="598.8" x2="102.22" y2="600.3" stroke="#111" stroke-width="0.7" />
<line x1="104.45" y1="598.8" x2="104.45" y2="600.3" stroke="#111" stroke-width="0.7" />
<line x1="106.03" y1="598.8" x2="106.03" y2="600.3" stroke="#111" stroke-width="0.7" />
<line x1="107.26" y1="598.8" x2="107.26" y2="600.3" stroke="#111" stroke-width="0.7" />
<line x1="108.27" y1="598.8" x2="108.27" y2="600.3" stroke="#111" stroke-width="0.7" />
<line x1="109.12" y1="598.8" x2="109.12" y2="600.3" stroke="#111" stroke-width="0.7" />
<line x1="109.85" y1="598.8" x2="109.85" y2="600.3" stroke="#111" stroke-width="0.7" />
<line x1="110.5" y1="598.8" x2="110.5" y2="600.3" stroke="#111" stroke-width="0.7" />
<line x1="111.08" y1="598.8" x2="111.08" y2="601.4" stroke="#111" stroke-width="1" />
<line x1="114.9" y1="598.8" x2="114.9" y2="600.3" stroke="#111" stroke-width="0.7" />
<line x1="117.13" y1="598.8" x2="117.13" y2="600.3" stroke="#111" stroke-width="0.7" />
<line x1="118.71" y1="598.8" x2="118.71" y2="600.3" stroke="#111" stroke-width="0.7" />
<line x1="119.94" y1="598.8" x2="119.94" y2="600.3" stroke="#111" stroke-width="0.7" />
<line x1="120.95" y1="598.8" x2="120.95" y2="600.3" stroke="#111" stroke-width="0.7" />
<line x1="121.8" y1="598.8" x2="121.8" y2="600.3" stroke="#111" stroke-width="0.7" />
<line x1="122.53" y1="598.8" x2="122.53" y2="600.3" stroke="#111" stroke-width="0.7" />
<line x1="123.18" y1="598.8" x2="123.18" y2="600.3" stroke="#111" stroke-width="0.7" />
<line x1="123.76" y1="598.8" x2="123.76" y2="601.4" stroke="#111" stroke-width="1" />
<line x1="127.58" y1="598.8" x2="127.58" y2="600.3" stroke="#111" stroke-width="0.7" />
<line x1="129.81" y1="598.8" x2="129.81" y2="600.3" stroke="#111" stroke-width="0.7" />
<line x1="131.39" y1="598.8" x2="131.39" y2="600.3" stroke="#111" stroke-width="0.7" />
<line x1="132.62" y1="598.8" x2="132.62" y2="600.3" stroke="#111" stroke-width="0.7" />
<line x1="133.63" y1="598.8" x2="133.63" y2="600.3" stroke="#111" stroke-width="0.7" />
<line x1="134.48" y1="598.8" x2="134.48" y2="600.3" stroke="#111" stroke-width="0.7" />
<line x1="135.21" y1="598.8" x2="135.21" y2="600.3" stroke="#111" stroke-width="0.7" />
<line x1="135.86" y1="598.8" x2="135.86" y2="600.3" stroke="#111" stroke-width="0.7" />
<line x1="136.44" y1="598.8" x2="136.44" y2="601.4" stroke="#111" stroke-width="1" />
<text x="35.9" y="608.4" font-size="7.6" fill="#111" stroke="#111" stroke-width="0.16" text-anchor="middle">10<tspan font-size="5.8" dy="-3.3">&#8722;2</tspan></text>
<text x="61.26" y="608.4" font-size="7.6" fill="#111" stroke="#111" stroke-width="0.16" text-anchor="middle">10<tspan font-size="5.8" dy="-3.3">0</tspan></text>
<text x="86.62" y="608.4" font-size="7.6" fill="#111" stroke="#111" stroke-width="0.16" text-anchor="middle">10<tspan font-size="5.8" dy="-3.3">2</tspan></text>
<text x="111.98" y="608.4" font-size="7.6" fill="#111" stroke="#111" stroke-width="0.16" text-anchor="middle">10<tspan font-size="5.8" dy="-3.3">4</tspan></text>
<text x="137.34" y="608.4" font-size="7.6" fill="#111" stroke="#111" stroke-width="0.16" text-anchor="middle">10<tspan font-size="5.8" dy="-3.3">6</tspan></text>
<path d="M46.9,543.54 L47.4,543.55 L47.9,543.57 L48.4,543.59 L48.9,543.62 L49.4,543.66 L49.9,543.72 L50.4,543.79 L50.9,543.89 L51.4,544.03 L51.9,544.2 L52.4,544.44 L52.9,544.75 L53.4,545.17 L53.9,545.72 L54.4,546.43 L54.9,547.37 L55.4,548.57 L55.9,550.09 L56.4,552 L56.9,554.34 L57.4,557.13 L57.9,560.37 L58.4,564 L58.9,567.91 L59.4,571.96 L59.9,575.98 L60.4,579.8 L60.9,583.28 L61.4,586.34 L61.9,588.95 L62.4,591.11 L62.9,592.86 L63.4,594.25 L63.9,595.34 L64.4,596.18 L64.9,596.82 L65.4,597.31 L65.9,597.68 L66.4,597.96 L66.9,598.17 L67.4,598.33 L67.9,598.45 L68.4,598.54 L68.9,598.61 L69.4,598.66 L69.9,598.69 L70.4,598.72 L70.9,598.74 L71.4,598.76 L71.9,598.77 L72.4,598.78 L72.9,598.78 L73.4,598.79 L73.9,598.79 L74.4,598.79 L74.9,598.79 L75.4,598.8 L75.9,598.8" stroke="#134d86" stroke-width="1.5" fill="none" />
<path d="M46.9,543.5 L47.4,543.5 L47.9,543.5 L48.4,543.5 L48.9,543.5 L49.4,543.5 L49.9,543.5 L50.4,543.5 L50.9,543.5 L51.4,543.5 L51.9,543.5 L52.4,543.5 L52.9,543.5 L53.4,543.5 L53.9,543.5 L54.4,543.5 L54.9,543.5 L55.4,543.5 L55.9,543.51 L56.4,543.51 L56.9,543.51 L57.4,543.51 L57.9,543.51 L58.4,543.51 L58.9,543.52 L59.4,543.52 L59.9,543.53 L60.4,543.53 L60.9,543.54 L61.4,543.55 L61.9,543.56 L62.4,543.57 L62.9,543.59 L63.4,543.61 L63.9,543.63 L64.4,543.66 L64.9,543.7 L65.4,543.74 L65.9,543.79 L66.4,543.86 L66.9,543.93 L67.4,544.03 L67.9,544.14 L68.4,544.29 L68.9,544.46 L69.4,544.66 L69.9,544.91 L70.4,545.22 L70.9,545.58 L71.4,546.02 L71.9,546.55 L72.4,547.18 L72.9,547.93 L73.4,548.82 L73.9,549.86 L74.4,551.08 L74.9,552.48 L75.4,554.09 L75.9,555.91 L76.4,557.94 L76.9,560.17 L77.4,562.59 L77.9,565.16 L78.4,567.85 L78.9,570.6 L79.4,573.36 L79.9,576.07 L80.4,578.7 L80.9,581.18 L81.4,583.49 L81.9,585.6 L82.4,587.51 L82.9,589.2 L83.4,590.68 L83.9,591.97 L84.4,593.08 L84.9,594.03 L85.4,594.83 L85.9,595.51 L86.4,596.08 L86.9,596.55 L87.4,596.94 L87.9,597.27 L88.4,597.54 L88.9,597.77 L89.4,597.95 L89.9,598.1 L90.4,598.23 L90.9,598.33 L91.4,598.41 L91.9,598.48 L92.4,598.54 L92.9,598.59 L93.4,598.63 L93.9,598.66 L94.4,598.68 L94.9,598.7 L95.4,598.72 L95.9,598.74 L96.4,598.75 L96.9,598.76 L97.4,598.76 L97.9,598.77 L98.4,598.78 L98.9,598.78 L99.4,598.78 L99.9,598.79" stroke="#e5097f" stroke-width="1.5" fill="none" />
<path d="M72,543.53 L72.5,543.54 L73,543.54 L73.5,543.55 L74,543.56 L74.5,543.57 L75,543.58 L75.5,543.6 L76,543.61 L76.5,543.63 L77,543.65 L77.5,543.67 L78,543.7 L78.5,543.74 L79,543.77 L79.5,543.82 L80,543.87 L80.5,543.93 L81,544 L81.5,544.08 L82,544.17 L82.5,544.28 L83,544.41 L83.5,544.56 L84,544.72 L84.5,544.92 L85,545.14 L85.5,545.4 L86,545.7 L86.5,546.05 L87,546.44 L87.5,546.89 L88,547.41 L88.5,548 L89,548.67 L89.5,549.42 L90,550.27 L90.5,551.22 L91,552.29 L91.5,553.46 L92,554.76 L92.5,556.18 L93,557.72 L93.5,559.38 L94,561.15 L94.5,563.02 L95,564.97 L95.5,566.99 L96,569.06 L96.5,571.15 L97,573.24 L97.5,575.31 L98,577.33 L98.5,579.28 L99,581.15 L99.5,582.92 L100,584.58 L100.5,586.12 L101,587.54 L101.5,588.84 L102,590.01 L102.5,591.08 L103,592.03 L103.5,592.88 L104,593.63 L104.5,594.3 L105,594.89 L105.5,595.41 L106,595.86 L106.5,596.25 L107,596.6 L107.5,596.9 L108,597.16 L108.5,597.38 L109,597.58 L109.5,597.74 L110,597.89 L110.5,598.02 L111,598.13 L111.5,598.22 L112,598.3 L112.5,598.37 L113,598.43 L113.5,598.48 L114,598.53 L114.5,598.56 L115,598.6 L115.5,598.63 L116,598.65 L116.5,598.67 L117,598.69 L117.5,598.7 L118,598.72 L118.5,598.73 L119,598.74" stroke="#c4122f" stroke-width="1.5" fill="none" />
<circle cx="46.9" cy="543.5" r="1.15" fill="#111" />
<rect x="58.7" y="543.8" width="2.2" height="2.2" fill="#111" />
<circle cx="59.8" cy="582.8" r="1.15" fill="#111" />
<circle cx="72.3" cy="542.5" r="1.15" fill="#111" />
<rect x="72.1" y="546.2" width="2.2" height="2.2" fill="#111" />
<circle cx="73" cy="598.4" r="1.15" fill="#111" />
<rect x="80.7" y="580.3" width="2.2" height="2.2" fill="#111" />
<rect x="85.1" y="593.7" width="2.2" height="2.2" fill="#111" />
<circle cx="81.8" cy="542.5" r="1.15" fill="#111" />
<circle cx="86.2" cy="542.8" r="1.15" fill="#111" />
<circle cx="91" cy="549.4" r="1.15" fill="#111" />
<circle cx="95.2" cy="563.6" r="1.15" fill="#111" />
<circle cx="99.1" cy="578.8" r="1.15" fill="#111" />
<circle cx="102.6" cy="584" r="1.15" fill="#111" />
<circle cx="95" cy="598.3" r="1.15" fill="#111" />
<circle cx="100" cy="598.3" r="1.15" fill="#111" />
<circle cx="104" cy="598.3" r="1.15" fill="#111" />
<circle cx="119.9" cy="593" r="1.15" fill="#111" />
<circle cx="119.9" cy="598.5" r="1.15" fill="#111" />
<circle cx="86" cy="598.4" r="1.15" fill="#111" />
<text x="67.1" y="618.3" font-size="8.4" fill="#111" stroke="#111" stroke-width="0.16" textLength="37.7" lengthAdjust="spacingAndGlyphs">S63845 [nM]</text>
<text transform="translate(13.1,478.1) rotate(-90)" font-size="8.3" fill="#111" stroke="#111" stroke-width="0.16" text-anchor="middle" textLength="79" lengthAdjust="spacingAndGlyphs">Viability (relative to control)</text>
<text transform="translate(13.8,568.5) rotate(-90)" font-size="8.3" fill="#111" stroke="#111" stroke-width="0.16" text-anchor="middle" textLength="78.8" lengthAdjust="spacingAndGlyphs">Viability (relative to control)</text>
<line x1="120" y1="542.5" x2="131" y2="542.5" stroke="#134d86" stroke-width="1.5" />
<circle cx="125.5" cy="542.5" r="1.6" fill="#111" />
<text x="135.4" y="545.2" font-size="7.4" fill="#111" stroke="#111" stroke-width="0.16" textLength="47.1" lengthAdjust="spacingAndGlyphs">AMO-1_DMSO</text>
<line x1="120" y1="555.1" x2="131" y2="555.1" stroke="#e5097f" stroke-width="1.5" />
<rect x="124" y="553.6" width="3" height="3" fill="#111" />
<text x="135.4" y="557.8" font-size="7.4" fill="#111" stroke="#111" stroke-width="0.16" textLength="70.8" lengthAdjust="spacingAndGlyphs">AMO-1_CARF#ABCB1&#8722;</text>
<line x1="120" y1="567.7" x2="131" y2="567.7" stroke="#c4122f" stroke-width="1.5" />
<circle cx="125.5" cy="567.7" r="1.1" fill="#111" />
<text x="135.4" y="570.4" font-size="7.4" fill="#111" stroke="#111" stroke-width="0.16" textLength="79.1" lengthAdjust="spacingAndGlyphs">AMO-1_CARF#ABCB1+</text>
<ellipse cx="283.7" cy="457" rx="103" ry="57" fill="url(#cellg)" stroke="#6f8fb8" stroke-width="0.8"/>
<ellipse cx="397.4" cy="560" rx="103" ry="58" fill="url(#cellg)" stroke="#6f8fb8" stroke-width="0.8"/>
<circle cx="342.7" cy="458.3" r="26" fill="url(#nucg)" stroke="#8396ad" stroke-width="0.7"/>
<circle cx="457" cy="561.3" r="26" fill="url(#nucg)" stroke="#8396ad" stroke-width="0.7"/>
<ellipse cx="233.9" cy="447.5" rx="34" ry="23.2" transform="rotate(-43.4 233.9 447.5)" fill="#f39b1f"/>
<ellipse cx="233.9" cy="447.5" rx="30.2" ry="19.4" transform="rotate(-43.4 233.9 447.5)" fill="#fedc92"/>
<path d="M246.35,422.52 L246.4,432.78 A1.7,1.7 0 0 0 249.8,433.02 L251.34,422.89 Z" fill="#f39b1f"/>
<path d="M262.47,441 L247.14,437.76 A1.7,1.7 0 0 0 246.26,441.04 L261.19,445.83 Z" fill="#f39b1f"/>
<path d="M229.44,428.05 L234.82,439.62 A1.7,1.7 0 0 0 237.98,438.38 L234.1,426.23 Z" fill="#f39b1f"/>
<path d="M210.08,451.78 L222.88,451.1 A1.7,1.7 0 0 0 222.92,447.7 L210.12,446.78 Z" fill="#f39b1f"/>
<path d="M241.38,464.7 L232.05,451.01 A1.7,1.7 0 0 0 229.15,452.79 L237.11,467.31 Z" fill="#f39b1f"/>
<path d="M211.36,465.61 L221.7,462.97 A1.7,1.7 0 0 0 221.1,459.63 L210.5,460.69 Z" fill="#f39b1f"/>
<ellipse cx="348.6" cy="552.2" rx="35.3" ry="22.9" transform="rotate(-45.8 348.6 552.2)" fill="#f39b1f"/>
<ellipse cx="348.6" cy="552.2" rx="31.5" ry="19.1" transform="rotate(-45.8 348.6 552.2)" fill="#fedc92"/>
<path d="M361.05,527.22 L361.1,537.48 A1.7,1.7 0 0 0 364.5,537.72 L366.04,527.59 Z" fill="#f39b1f"/>
<path d="M377.17,545.7 L361.84,542.46 A1.7,1.7 0 0 0 360.96,545.74 L375.89,550.53 Z" fill="#f39b1f"/>
<path d="M344.14,532.75 L349.52,544.32 A1.7,1.7 0 0 0 352.68,543.08 L348.8,530.93 Z" fill="#f39b1f"/>
<path d="M324.78,556.48 L337.58,555.8 A1.7,1.7 0 0 0 337.62,552.4 L324.82,551.48 Z" fill="#f39b1f"/>
<path d="M356.08,569.4 L346.75,555.71 A1.7,1.7 0 0 0 343.85,557.49 L351.81,572.01 Z" fill="#f39b1f"/>
<path d="M326.06,570.31 L336.4,567.67 A1.7,1.7 0 0 0 335.8,564.33 L325.2,565.39 Z" fill="#f39b1f"/>
<g transform="translate(255.6,410.3) rotate(0)"><ellipse rx="10.8" ry="4.5" fill="#ece2c8" stroke="#9d917a" stroke-width="0.6"/><text y="1.66" font-size="4.6" fill="#333" text-anchor="middle" textLength="8.5" lengthAdjust="spacingAndGlyphs">BAX</text></g>
<g transform="translate(263.8,428) rotate(-15)"><ellipse rx="4" ry="2.1" fill="#f0e8d4" stroke="#9d917a" stroke-width="0.6"/></g>
<g transform="translate(265.2,434.6) rotate(-10)"><ellipse rx="4" ry="2.1" fill="#f0e8d4" stroke="#9d917a" stroke-width="0.6"/></g>
<g transform="translate(256.4,456.8) rotate(-35)"><ellipse rx="2.4" ry="3.6" fill="#c9a6b8" stroke="#7a3a5a" stroke-width="0.6"/></g>
<ellipse cx="204.9" cy="474.3" rx="1.7" ry="3.7" transform="rotate(47 204.9 474.3)" fill="#e4c3d3" stroke="#9c5577" stroke-width="0.9"/>
<ellipse cx="209.2" cy="477.8" rx="1.7" ry="3.7" transform="rotate(47 209.2 477.8)" fill="#e4c3d3" stroke="#9c5577" stroke-width="0.9"/>
<ellipse cx="214.4" cy="479.8" rx="1.7" ry="3.7" transform="rotate(47 214.4 479.8)" fill="#e4c3d3" stroke="#9c5577" stroke-width="0.9"/>
<g transform="translate(245.9,476.3) rotate(42)"><ellipse rx="11.5" ry="5" fill="#a6668a" stroke="#7a3a5a" stroke-width="0.6"/><text transform="rotate(0)" y="1.6" font-size="4.6" fill="#2b1822" text-anchor="middle">BAK</text></g>
<g transform="translate(223.2,486.9) rotate(0)"><ellipse rx="4.6" ry="10.4" fill="#a6668a" stroke="#7a3a5a" stroke-width="0.6"/><text transform="rotate(-90)" y="1.6" font-size="4.6" fill="#2b1822" text-anchor="middle">BAK</text></g>
<circle cx="259.6" cy="479.4" r="7.2" fill="url(#bimg)" stroke="#3d937f" stroke-width="0.6"/>
<text x="259.6" y="481.2" font-size="5.0" fill="#2a5249" text-anchor="middle" textLength="7.2" lengthAdjust="spacingAndGlyphs">BIM</text>
<g transform="translate(241.8,495.3) rotate(0)"><ellipse rx="9" ry="3.9" fill="#fbe994" stroke="#d7b64c" stroke-width="0.6"/><text y="1.8" font-size="5" fill="#333" text-anchor="middle" textLength="11.5" lengthAdjust="spacingAndGlyphs">MCL-1</text></g>
<circle cx="300.8" cy="412.2" r="7.2" fill="url(#bimg)" stroke="#3d937f" stroke-width="0.6"/>
<text x="300.8" y="414" font-size="5.0" fill="#2a5249" text-anchor="middle" textLength="7.2" lengthAdjust="spacingAndGlyphs">BIM</text>
<g transform="translate(322.3,412.2) rotate(0)"><ellipse rx="10" ry="4.3" fill="#fbe994" stroke="#d7b64c" stroke-width="0.6"/><text y="1.8" font-size="5" fill="#333" text-anchor="middle" textLength="11.5" lengthAdjust="spacingAndGlyphs">MCL-1</text></g>
<circle cx="288.6" cy="421.3" r="7.2" fill="url(#bimg)" stroke="#3d937f" stroke-width="0.6"/>
<text x="288.6" y="423.1" font-size="5.0" fill="#2a5249" text-anchor="middle" textLength="7.2" lengthAdjust="spacingAndGlyphs">BIM</text>
<g transform="translate(310.5,422) rotate(0)"><ellipse rx="10" ry="4.3" fill="#fbe994" stroke="#d7b64c" stroke-width="0.6"/><text y="1.8" font-size="5" fill="#333" text-anchor="middle" textLength="11.5" lengthAdjust="spacingAndGlyphs">MCL-1</text></g>
<circle cx="289.9" cy="436.2" r="7.2" fill="url(#bimg)" stroke="#3d937f" stroke-width="0.6"/>
<text x="289.9" y="438" font-size="5.0" fill="#2a5249" text-anchor="middle" textLength="7.2" lengthAdjust="spacingAndGlyphs">BIM</text>
<g transform="translate(312.3,436.5) rotate(0)"><ellipse rx="10" ry="4.3" fill="#fbe994" stroke="#d7b64c" stroke-width="0.6"/><text y="1.8" font-size="5" fill="#333" text-anchor="middle" textLength="11.5" lengthAdjust="spacingAndGlyphs">MCL-1</text></g>
<circle cx="285.9" cy="446.7" r="7.2" fill="url(#bimg)" stroke="#3d937f" stroke-width="0.6"/>
<text x="285.9" y="448.5" font-size="5.0" fill="#2a5249" text-anchor="middle" textLength="7.2" lengthAdjust="spacingAndGlyphs">BIM</text>
<g transform="translate(306.8,448) rotate(0)"><ellipse rx="10" ry="4.3" fill="#fbe994" stroke="#d7b64c" stroke-width="0.6"/><text y="1.8" font-size="5" fill="#333" text-anchor="middle" textLength="11.5" lengthAdjust="spacingAndGlyphs">MCL-1</text></g>
<g transform="translate(308.6,489.8) rotate(0)"><ellipse rx="10.5" ry="4.3" fill="#f4c8da" stroke="#d38cad" stroke-width="0.6"/><text y="1.8" font-size="5" fill="#333" text-anchor="middle" textLength="11" lengthAdjust="spacingAndGlyphs">BCL-2</text></g>
<circle cx="303.2" cy="498.9" r="6.7" fill="url(#bimg)" stroke="#3d937f" stroke-width="0.6"/>
<text x="303.2" y="500.7" font-size="5.0" fill="#2a5249" text-anchor="middle" textLength="7.2" lengthAdjust="spacingAndGlyphs">BIM</text>
<g transform="translate(335,497.1) rotate(0)"><ellipse rx="10.5" ry="4.4" fill="#b7dcb0" stroke="#6aa866" stroke-width="0.6"/><text y="1.8" font-size="5" fill="#333" text-anchor="middle" textLength="12.5" lengthAdjust="spacingAndGlyphs">BCL-XL</text></g>
<circle cx="190.2" cy="465.3" r="1.75" fill="#e3131c" />
<circle cx="230" cy="494.9" r="1.75" fill="#e3131c" />
<circle cx="284.5" cy="407.5" r="1.75" fill="#e3131c" />
<circle cx="279.5" cy="416.5" r="1.75" fill="#e3131c" />
<circle cx="275.4" cy="437.1" r="1.75" fill="#e3131c" />
<circle cx="275.9" cy="444.4" r="1.75" fill="#e3131c" />
<circle cx="280.8" cy="482.2" r="1.75" fill="#e3131c" />
<circle cx="300.1" cy="480.2" r="1.75" fill="#e3131c" />
<circle cx="273.2" cy="494.4" r="1.75" fill="#e3131c" />
<circle cx="314.1" cy="499.8" r="1.75" fill="#e3131c" />
<circle cx="263.2" cy="506.2" r="1.75" fill="#e3131c" />
<circle cx="287.4" cy="505.3" r="1.75" fill="#e3131c" />
<circle cx="310.8" cy="406.1" r="1.75" fill="#e3131c" />
<circle cx="310.4" cy="411.6" r="1.75" fill="#e3131c" />
<circle cx="298.3" cy="422" r="1.75" fill="#e3131c" />
<circle cx="300.1" cy="436.5" r="1.75" fill="#e3131c" />
<circle cx="295" cy="448" r="1.75" fill="#e3131c" />
<path d="M259,414 Q262,419 262.5,424.5" stroke="#111" stroke-width="0.55" fill="none" />
<path d="M268.5,437 Q270,446 259.5,453" stroke="#111" stroke-width="0.55" fill="none" stroke-dasharray="1.2,0.8"/>
<path d="M257.5,460 L262.5,465.5" stroke="#111" stroke-width="0.55" fill="none" />
<path d="M250,469 Q253,464 255.5,460.5" stroke="#111" stroke-width="0.55" fill="none" />
<path d="M228,481.5 Q233,483 237.5,479" stroke="#111" stroke-width="0.55" fill="none" />
<circle cx="262.6" cy="425.2" r="0.75" fill="#111" />
<circle cx="259.2" cy="453.4" r="0.75" fill="#111" />
<circle cx="262.8" cy="465.8" r="0.75" fill="#111" />
<circle cx="255.6" cy="460.4" r="0.75" fill="#111" />
<circle cx="237.8" cy="478.8" r="0.75" fill="#111" />
<text x="263.8" y="470.7" font-size="5.2" fill="#111" stroke="#111" stroke-width="0.16" font-style="italic" textLength="49" lengthAdjust="spacingAndGlyphs">Cytochrome c release</text>
<text x="274.1" y="477.2" font-size="5.2" fill="#111" stroke="#111" stroke-width="0.16" font-style="italic" textLength="28.5" lengthAdjust="spacingAndGlyphs">-&gt; cell death</text>
<g transform="translate(378,523) rotate(-35)"><ellipse rx="9" ry="4.8" fill="#ece2c8" stroke="#9d917a" stroke-width="0.6"/><text y="1.66" font-size="4.6" fill="#333" text-anchor="middle" textLength="8.5" lengthAdjust="spacingAndGlyphs">BAX</text></g>
<g transform="translate(360,578.5) rotate(45)"><ellipse rx="10.8" ry="5.4" fill="#a6668a" stroke="#7a3a5a" stroke-width="0.6"/><text transform="rotate(0)" y="1.6" font-size="4.6" fill="#2b1822" text-anchor="middle">BAK</text></g>
<g transform="translate(336.5,587.5) rotate(0)"><ellipse rx="4.6" ry="10.4" fill="#a6668a" stroke="#7a3a5a" stroke-width="0.6"/><text transform="rotate(-90)" y="1.6" font-size="4.6" fill="#2b1822" text-anchor="middle">BAK</text></g>
<g transform="translate(378.5,582.3) rotate(0)"><ellipse rx="10" ry="4.5" fill="#b7dcb0" stroke="#6aa866" stroke-width="0.6"/><text y="1.8" font-size="5" fill="#333" text-anchor="middle" textLength="12.5" lengthAdjust="spacingAndGlyphs">BCL-XL</text></g>
<g transform="translate(355.6,598.7) rotate(0)"><ellipse rx="9" ry="3.9" fill="#fbe994" stroke="#d7b64c" stroke-width="0.6"/><text y="1.8" font-size="5" fill="#333" text-anchor="middle" textLength="11.5" lengthAdjust="spacingAndGlyphs">MCL-1</text></g>
<circle cx="343.9" cy="598.2" r="1.75" fill="#e3131c" />
<path d="M342,582 L350.5,579.5" stroke="#111" stroke-width="0.55" fill="none" />
<circle cx="351" cy="579.4" r="0.75" fill="#111" />
<g transform="translate(394.8,533.2) rotate(0)"><ellipse rx="11" ry="4.4" fill="#f4c8da" stroke="#d38cad" stroke-width="0.6"/><text y="1.8" font-size="5" fill="#333" text-anchor="middle" textLength="11" lengthAdjust="spacingAndGlyphs">BCL-2</text></g>
<g transform="translate(409.6,539.4) rotate(0)"><ellipse rx="11" ry="4.4" fill="#f4c8da" stroke="#d38cad" stroke-width="0.6"/><text y="1.8" font-size="5" fill="#333" text-anchor="middle" textLength="11" lengthAdjust="spacingAndGlyphs">BCL-2</text></g>
<g transform="translate(421.7,544.8) rotate(0)"><ellipse rx="11" ry="4.4" fill="#f4c8da" stroke="#d38cad" stroke-width="0.6"/><text y="1.8" font-size="5" fill="#333" text-anchor="middle" textLength="11" lengthAdjust="spacingAndGlyphs">BCL-2</text></g>
<circle cx="390.2" cy="544" r="7.2" fill="url(#bimg)" stroke="#3d937f" stroke-width="0.6"/>
<text x="390.2" y="545.8" font-size="5.0" fill="#2a5249" text-anchor="middle" textLength="7.2" lengthAdjust="spacingAndGlyphs">BIM</text>
<circle cx="403.7" cy="550.2" r="7.2" fill="url(#bimg)" stroke="#3d937f" stroke-width="0.6"/>
<text x="403.7" y="552" font-size="5.0" fill="#2a5249" text-anchor="middle" textLength="7.2" lengthAdjust="spacingAndGlyphs">BIM</text>
<circle cx="417.2" cy="556.4" r="7.2" fill="url(#bimg)" stroke="#3d937f" stroke-width="0.6"/>
<text x="417.2" y="558.2" font-size="5.0" fill="#2a5249" text-anchor="middle" textLength="7.2" lengthAdjust="spacingAndGlyphs">BIM</text>
<circle cx="401.5" cy="583.3" r="7.2" fill="url(#bimg)" stroke="#3d937f" stroke-width="0.6"/>
<text x="401.5" y="585.1" font-size="5.0" fill="#2a5249" text-anchor="middle" textLength="7.2" lengthAdjust="spacingAndGlyphs">BIM</text>
<g transform="translate(423.1,583.3) rotate(0)"><ellipse rx="10" ry="4.3" fill="#fbe994" stroke="#d7b64c" stroke-width="0.6"/><text y="1.8" font-size="5" fill="#333" text-anchor="middle" textLength="11.5" lengthAdjust="spacingAndGlyphs">MCL-1</text></g>
<circle cx="411.5" cy="583.3" r="1.75" fill="#e3131c" />
<path d="M401.5,591 V598" stroke="#111" stroke-width="0.6" fill="none" stroke-dasharray="1,0.8"/>
<circle cx="401.5" cy="598" r="0.7" fill="#111" />
<circle cx="401.5" cy="605.4" r="7.2" fill="url(#bimg)" stroke="#3d937f" stroke-width="0.6"/>
<text x="401.5" y="607.2" font-size="5.0" fill="#2a5249" text-anchor="middle" textLength="7.2" lengthAdjust="spacingAndGlyphs">BIM</text>
<g transform="translate(419.8,605.4) rotate(0)"><ellipse rx="10.5" ry="4.4" fill="#b7dcb0" stroke="#6aa866" stroke-width="0.6"/><text y="1.8" font-size="5" fill="#333" text-anchor="middle" textLength="12.5" lengthAdjust="spacingAndGlyphs">BCL-XL</text></g>
<g transform="translate(398.6,502.3) rotate(0)"><ellipse rx="2.9" ry="8" fill="#8cc584" stroke="#5b9a55" stroke-width="0.6"/></g>
<g transform="translate(405.6,502.3) rotate(0)"><ellipse rx="2.9" ry="8" fill="#8cc584" stroke="#5b9a55" stroke-width="0.6"/></g>
<line x1="402.1" y1="500" x2="402.1" y2="495.5" stroke="#111" stroke-width="0.5" />
<circle cx="402.1" cy="494.8" r="0.8" fill="#111" />
<text x="411.8" y="500.3" font-size="4.6" fill="#333" stroke="#333" stroke-width="0.16" textLength="11" lengthAdjust="spacingAndGlyphs">MDR1</text>
<circle cx="401.5" cy="478" r="1.75" fill="#e3131c" />
<circle cx="408.9" cy="477.6" r="1.75" fill="#e3131c" />
<circle cx="396.9" cy="485" r="1.75" fill="#e3131c" />
<circle cx="403.9" cy="483.2" r="1.75" fill="#e3131c" />
<circle cx="402.5" cy="488.8" r="1.75" fill="#e3131c" />
<circle cx="402.1" cy="505" r="1.75" fill="#e3131c" />
<circle cx="403.7" cy="514.4" r="1.75" fill="#e3131c" />
<circle cx="410.2" cy="519.2" r="1.75" fill="#e3131c" />
<circle cx="403.7" cy="521.9" r="1.75" fill="#e3131c" />
<text x="401.5" y="430.2" font-size="7" fill="#111" stroke="#111" stroke-width="0.16" textLength="48.5" lengthAdjust="spacingAndGlyphs">MCL-1 inhibitor</text>
<text x="401.5" y="439.3" font-size="7" fill="#111" stroke="#111" stroke-width="0.16" textLength="39.7" lengthAdjust="spacingAndGlyphs">sensitive cell</text>
<text x="241.3" y="593.8" font-size="7" fill="#111" stroke="#111" stroke-width="0.16" textLength="48.3" lengthAdjust="spacingAndGlyphs">MCL-1 inhibitor</text>
<text x="241.3" y="603" font-size="7" fill="#111" stroke="#111" stroke-width="0.16" textLength="38.8" lengthAdjust="spacingAndGlyphs">resistant cell</text>
<circle cx="458.9" cy="617.3" r="2.3" fill="#e3131c" />
<text x="464.8" y="620" font-size="7.4" fill="#111" textLength="45.8" lengthAdjust="spacingAndGlyphs"><tspan font-weight="bold">MCL1</tspan> inhibitor</text>
<rect x="0" y="0" width="520" height="1.2" fill="#000" />
<rect x="0" y="0" width="1.3" height="627" fill="#000" />
<rect x="518.6" y="0" width="1.4" height="627" fill="#000" />
<rect x="0" y="625.3" width="520" height="1.7" fill="#000" /></svg>
</body></html>
